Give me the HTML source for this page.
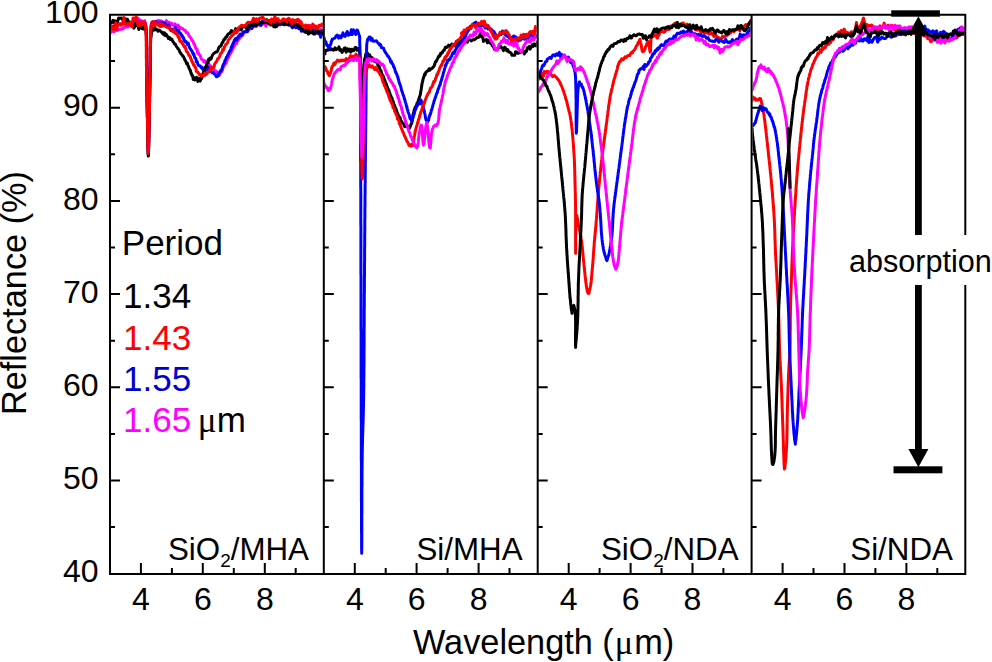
<!DOCTYPE html><html><head><meta charset="utf-8"><style>html,body{margin:0;padding:0;background:#fff;}svg{display:block;}text{font-family:"Liberation Sans",sans-serif;}</style></head><body><svg width="992" height="662" viewBox="0 0 992 662"><rect width="992" height="662" fill="#fff"/><defs><clipPath id="cp1"><rect x="111" y="15.5" width="211.8" height="557.5"/></clipPath><clipPath id="cp2"><rect x="324.8" y="15.5" width="211.9" height="557.5"/></clipPath><clipPath id="cp3"><rect x="538.7" y="15.5" width="211.9" height="557.5"/></clipPath><clipPath id="cp4"><rect x="752.6" y="15.5" width="211.7" height="557.5"/></clipPath></defs><g clip-path="url(#cp1)">
<path d="M110.0,32.0 111.0,32.4 112.0,31.5 112.9,29.0 113.9,31.7 115.0,30.9 116.0,29.3 117.3,30.5 118.6,29.9 119.9,29.5 121.3,28.8 122.7,29.1 124.0,27.1 125.4,27.3 126.7,26.3 128.1,27.0 129.4,25.7 130.7,24.7 132.0,23.6 133.0,23.7 134.0,23.6 135.0,22.8 136.0,24.2 137.0,23.6 138.0,18.3 139.1,19.1 140.3,21.2 141.5,20.7 142.6,21.6 143.5,21.6 144.3,24.0 144.7,20.7 144.9,21.8 145.1,23.5 145.3,23.1 145.4,23.6 145.6,23.9 145.8,25.1 146.0,26.9 146.2,28.3 146.2,29.6 146.3,30.9 146.3,32.3 146.4,33.6 146.4,35.0 146.5,36.4 146.5,37.8 146.5,39.1 146.5,40.5 146.5,41.9 146.5,43.3 146.5,44.8 146.5,46.3 146.5,47.8 146.5,49.4 146.5,50.9 146.5,52.4 146.5,53.9 146.5,55.4 146.5,57.0 146.5,58.5 146.5,60.0 146.5,61.5 146.5,62.9 146.5,64.4 146.6,65.8 146.6,67.2 146.6,68.6 146.6,70.0 146.6,71.4 146.7,72.8 146.7,74.2 146.7,75.5 146.7,77.0 146.8,78.3 146.8,79.8 146.8,81.2 146.8,82.6 146.9,84.1 146.9,85.5 146.9,86.9 146.9,88.4 147.0,89.8 147.0,91.2 147.0,92.7 147.0,94.1 147.1,95.5 147.1,97.0 147.1,98.4 147.1,99.8 147.1,101.3 147.2,102.7 147.2,104.1 147.2,105.4 147.2,106.8 147.3,108.1 147.3,109.5 147.3,110.9 147.3,112.2 147.4,113.8 147.4,115.3 147.4,116.9 147.5,118.5 147.5,120.0 147.5,121.3 147.6,122.6 147.6,123.9 147.6,125.1 147.6,126.5 147.7,127.9 147.7,129.3 147.7,130.7 147.7,132.1 147.8,133.6 147.8,134.9 147.8,136.3 147.8,137.7 147.9,139.1 147.9,140.4 147.9,141.9 148.0,143.4 148.0,144.8 148.0,146.2 148.1,147.7 148.1,149.2 148.2,150.4 148.3,149.9 148.4,150.5 148.5,149.0 148.5,147.7 148.6,146.3 148.6,144.9 148.6,143.4 148.7,141.9 148.7,140.4 148.7,139.0 148.8,137.7 148.8,136.3 148.8,134.9 148.8,133.5 148.9,132.1 148.9,130.8 148.9,129.3 148.9,127.9 149.0,126.5 149.0,125.2 149.0,123.9 149.0,122.6 149.1,121.3 149.1,120.0 149.1,118.5 149.2,116.9 149.2,115.3 149.2,113.8 149.3,112.2 149.3,110.9 149.3,109.4 149.3,108.1 149.4,106.7 149.4,105.3 149.4,104.0 149.4,102.5 149.4,101.1 149.5,99.7 149.5,98.2 149.5,96.8 149.5,95.4 149.6,93.9 149.6,92.4 149.6,91.0 149.6,89.6 149.7,88.1 149.7,86.7 149.7,85.2 149.7,83.8 149.8,82.4 149.8,81.0 149.8,79.5 149.8,78.2 149.9,76.8 149.9,75.4 149.9,74.1 149.9,72.7 150.0,71.5 150.0,70.0 150.0,68.5 150.1,67.1 150.1,65.6 150.1,64.1 150.1,62.7 150.2,61.2 150.2,59.7 150.2,58.2 150.2,56.6 150.2,55.1 150.3,53.6 150.3,52.2 150.3,50.7 150.3,49.2 150.4,47.6 150.4,46.3 150.4,45.0 150.5,43.5 150.5,42.1 150.5,40.7 150.6,39.2 150.6,37.7 150.7,36.3 150.7,34.6 150.8,33.1 150.9,31.6 151.0,29.9 151.1,28.4 151.1,27.0 151.2,25.7 151.3,24.3 151.5,23.5 152.0,22.8 152.5,22.3 153.0,22.4 153.7,21.8 154.4,23.4 155.2,21.6 156.0,21.9 156.8,21.0 157.7,21.3 158.7,20.3 159.7,23.1 160.8,20.8 161.9,21.5 163.0,23.3 164.1,23.6 165.2,22.7 166.4,20.6 167.4,24.3 168.4,24.3 169.3,22.2 170.1,25.4 171.0,23.6 171.8,23.3 172.7,25.1 173.5,25.0 174.3,25.8 175.1,23.8 175.9,28.3 176.6,25.6 178.1,25.0 179.2,28.1 180.3,27.4 181.3,28.6 182.3,28.4 183.3,29.3 184.2,30.2 185.2,30.2 186.1,32.4 187.1,32.5 187.9,33.3 188.8,35.2 189.6,36.6 190.4,37.4 191.2,38.4 191.9,40.6 192.7,40.7 193.4,42.5 194.1,44.5 194.5,44.5 194.9,46.0 195.2,46.7 195.6,48.0 196.0,47.8 196.4,48.7 196.8,50.1 197.1,49.2 197.5,53.2 197.9,51.7 198.3,52.4 198.7,54.1 199.4,54.9 200.1,55.2 200.9,58.0 201.6,59.4 202.4,59.6 203.2,60.6 203.8,61.7 204.4,60.5 205.0,62.3 205.6,62.2 206.2,61.5 206.8,61.2 207.6,63.0 208.5,63.1 209.4,65.5 210.3,65.5 211.2,66.9 212.0,67.1 212.7,68.0 213.4,68.0 214.0,69.9 214.7,71.6 215.3,70.6 216.0,71.0 216.6,71.8 217.2,72.0 217.8,72.2 218.3,73.5 218.9,73.1 219.5,75.3 220.3,73.0 221.0,72.3 221.8,71.4 222.1,69.9 222.5,70.1 222.9,68.2 223.2,67.3 223.6,66.8 224.0,66.2 224.5,64.5 225.1,64.3 225.6,62.3 226.2,63.0 226.7,61.1 227.3,59.6 227.8,58.3 228.4,57.5 228.9,56.5 229.4,55.0 229.9,54.1 230.4,53.5 231.1,52.0 231.6,51.5 232.2,50.4 232.8,48.6 233.4,47.7 234.0,45.5 234.6,45.7 235.3,44.2 236.0,43.6 236.7,43.4 237.4,39.6 238.2,40.4 239.1,38.2 240.1,38.2 240.6,36.1 241.1,36.1 241.6,36.0 242.1,35.8 243.1,34.2 244.2,32.3 245.1,31.6 246.1,32.0 247.0,30.4 248.0,28.0 249.1,29.7 250.2,28.5 250.9,28.6 251.6,26.9 252.4,27.8 253.2,25.3 254.0,26.8 254.8,25.2 255.6,26.3 256.4,26.4 257.3,23.9 258.2,24.4 259.1,24.3 260.0,25.6 261.1,24.8 262.3,21.8 263.5,24.0 264.7,24.3 266.0,26.3 267.3,20.3 268.6,22.0 269.9,24.9 271.2,20.5 272.5,20.6 273.7,23.4 275.0,24.2 276.3,21.4 277.5,23.3 278.8,22.6 280.1,25.0 281.4,22.4 282.7,24.1 284.0,21.0 285.2,22.2 286.5,22.5 287.7,24.5 288.8,23.7 290.0,21.9 290.9,24.1 291.8,24.4 292.7,23.4 293.6,23.5 294.5,23.8 295.3,22.1 296.1,24.8 297.0,25.1 297.7,24.1 298.5,26.3 300.0,24.4 301.1,25.9 302.1,26.5 303.0,29.7 303.9,26.4 304.9,29.3 306.0,30.3 307.5,29.8 308.3,31.2 309.2,27.7 310.1,25.5 310.9,30.6 311.8,27.3 312.7,28.8 313.5,27.3 314.4,31.0 316.0,30.7 317.2,28.3 318.4,30.9 319.6,29.8 320.7,29.5 321.8,30.0 323.0,29.7" fill="none" stroke="#ff00ff" stroke-width="3.0" stroke-linejoin="round" stroke-linecap="round"/>
<path d="M110.0,27.7 110.8,27.3 111.7,26.9 112.5,27.1 113.3,26.3 114.2,26.3 115.0,26.1 115.8,26.2 116.6,25.3 117.4,25.8 118.2,25.0 119.0,24.7 120.0,24.3 120.9,24.5 121.7,24.2 122.8,23.7 123.8,23.5 124.8,23.6 125.9,23.4 127.0,23.9 128.1,23.9 129.1,23.6 130.2,23.3 131.1,22.9 132.0,23.0 133.1,23.2 134.1,23.6 135.1,23.0 136.1,22.5 137.0,22.6 138.0,22.3 139.1,22.1 140.3,22.2 141.5,22.3 142.6,22.9 143.6,22.3 144.3,22.9 144.7,23.1 144.9,23.1 145.1,24.3 145.3,24.1 145.4,24.2 145.6,25.1 145.8,26.4 146.0,27.8 146.2,29.2 146.2,30.5 146.3,31.9 146.3,33.1 146.4,34.5 146.4,35.7 146.5,37.1 146.5,38.5 146.5,39.8 146.5,41.2 146.5,42.5 146.5,43.8 146.5,45.3 146.5,46.8 146.5,48.3 146.5,49.8 146.5,51.3 146.5,52.7 146.5,54.2 146.5,55.7 146.5,57.2 146.5,58.7 146.5,60.2 146.5,61.7 146.5,63.1 146.5,64.5 146.6,65.9 146.6,67.2 146.6,68.6 146.6,69.9 146.6,71.4 146.7,72.8 146.7,74.1 146.7,75.6 146.7,76.9 146.8,78.3 146.8,79.7 146.8,81.2 146.8,82.6 146.9,84.0 146.9,85.5 146.9,86.9 146.9,88.3 147.0,89.7 147.0,91.3 147.0,92.6 147.0,94.1 147.1,95.5 147.1,97.0 147.1,98.4 147.1,99.8 147.1,101.2 147.2,102.7 147.2,104.1 147.2,105.4 147.2,106.8 147.3,108.2 147.3,109.5 147.3,110.9 147.3,112.3 147.4,113.8 147.4,115.3 147.4,116.9 147.5,118.4 147.5,120.0 147.5,121.3 147.6,122.6 147.6,123.9 147.6,125.2 147.6,126.5 147.7,127.9 147.7,129.3 147.7,130.7 147.7,132.2 147.8,133.5 147.8,135.0 147.8,136.3 147.8,137.7 147.9,139.1 147.9,140.4 147.9,141.9 148.0,143.4 148.0,144.8 148.0,146.3 148.1,147.7 148.1,149.0 148.2,150.5 148.3,154.2 148.4,150.5 148.5,149.1 148.5,147.7 148.6,146.3 148.6,144.8 148.6,143.4 148.7,142.0 148.7,140.5 148.7,139.1 148.8,137.7 148.8,136.3 148.8,135.0 148.8,133.6 148.9,132.1 148.9,130.7 148.9,129.4 148.9,127.9 149.0,126.5 149.0,125.2 149.0,123.8 149.0,122.5 149.1,121.3 149.1,120.0 149.1,118.5 149.2,116.9 149.2,115.3 149.2,113.8 149.3,112.2 149.3,110.8 149.3,109.5 149.3,108.1 149.4,106.6 149.4,105.3 149.4,104.0 149.4,102.4 149.4,101.1 149.5,99.6 149.5,98.2 149.5,96.7 149.5,95.3 149.6,93.9 149.6,92.5 149.6,91.0 149.6,89.5 149.7,88.1 149.7,86.7 149.7,85.3 149.7,83.8 149.8,82.4 149.8,81.0 149.8,79.6 149.8,78.1 149.9,76.7 149.9,75.4 149.9,74.1 149.9,72.7 150.0,71.4 150.0,70.0 150.0,68.5 150.1,67.1 150.1,65.6 150.1,64.2 150.1,62.7 150.2,61.1 150.2,59.6 150.2,58.1 150.2,56.5 150.2,55.0 150.3,53.5 150.3,52.0 150.3,50.5 150.3,49.1 150.3,47.6 150.4,46.1 150.4,44.7 150.4,43.4 150.5,41.9 150.5,40.5 150.5,39.1 150.6,37.5 150.6,36.0 150.7,34.5 150.8,33.1 150.9,31.5 151.0,30.0 151.1,28.7 151.1,27.4 151.2,26.5 151.3,25.2 151.6,23.8 152.0,22.5 152.5,21.9 153.1,22.7 153.7,24.9 154.4,23.5 155.2,22.3 156.0,21.6 157.3,22.7 158.8,23.2 159.6,23.2 160.4,22.3 161.2,23.8 162.0,26.0 162.8,22.1 163.5,24.9 165.0,23.1 166.2,26.4 167.4,25.9 168.6,25.0 169.7,28.0 170.9,30.5 172.0,29.1 173.1,30.9 174.3,29.7 175.4,27.4 176.6,31.2 177.7,30.7 178.7,30.4 179.3,33.1 179.9,33.2 180.5,33.3 181.0,35.0 181.6,34.7 182.1,36.5 182.6,36.3 183.1,38.1 183.6,37.9 184.1,40.4 184.6,40.3 185.1,41.9 185.9,41.4 186.7,42.7 187.4,44.6 188.2,43.1 188.9,45.4 189.6,47.9 190.0,48.2 190.4,49.2 190.8,49.2 191.1,50.4 191.5,50.5 191.9,50.9 192.2,51.5 192.6,52.9 193.0,53.7 193.3,54.4 193.7,53.5 194.1,55.2 194.5,56.7 194.8,57.9 195.2,58.1 195.6,58.7 196.0,58.6 196.3,61.8 197.1,61.3 197.9,64.4 198.7,65.6 199.4,65.6 200.1,65.9 200.9,67.4 201.6,67.0 202.4,68.9 203.2,69.0 203.9,69.9 204.7,70.1 205.4,70.7 206.2,67.8 207.0,69.7 207.7,67.0 208.5,67.4 209.3,68.3 210.0,68.7 210.8,71.1 211.6,71.8 212.3,72.8 213.1,72.5 213.9,73.7 214.6,74.1 215.4,74.4 216.1,76.5 216.8,76.7 217.4,74.8 218.1,75.9 218.7,73.4 219.2,73.6 219.8,72.3 220.4,71.4 220.8,70.3 221.2,70.7 221.6,69.6 222.0,69.0 222.3,67.6 222.7,66.0 223.1,65.4 223.4,64.1 223.8,63.9 224.2,63.3 224.6,61.9 225.0,60.5 225.4,59.7 225.9,59.1 226.3,57.2 226.8,57.2 227.2,56.3 227.7,55.0 228.1,54.1 228.6,53.5 229.1,52.1 229.5,51.2 230.0,51.2 230.4,50.0 230.8,50.0 231.1,47.8 231.5,46.6 231.8,47.3 232.2,46.5 232.5,44.8 232.8,43.7 233.2,43.7 233.6,42.0 234.0,42.1 234.4,40.1 234.9,40.7 235.5,38.6 236.1,39.2 236.7,40.0 237.3,37.8 238.0,38.0 238.7,36.1 239.4,35.2 240.2,34.0 240.9,35.7 241.6,34.1 242.3,35.0 243.0,31.9 244.2,31.8 245.3,31.2 246.5,31.8 247.7,31.5 248.9,28.1 250.2,26.8 250.9,25.8 251.7,28.6 252.5,26.6 253.2,25.6 254.0,25.8 254.8,22.5 255.7,23.0 256.5,25.6 257.3,24.7 258.2,24.0 259.1,22.2 260.0,24.0 261.1,25.4 262.2,21.0 263.4,22.5 264.5,21.7 265.7,22.7 266.9,22.1 268.2,21.8 269.4,20.5 270.7,21.9 271.9,20.9 273.2,21.7 274.4,21.9 275.8,23.2 277.2,21.4 278.6,22.1 280.0,24.3 281.5,22.8 282.9,23.0 284.4,24.9 285.8,24.5 287.2,24.6 288.6,25.2 290.0,23.6 291.3,26.2 292.5,27.7 293.6,27.1 294.8,24.9 295.9,27.6 297.0,26.7 298.1,28.0 299.2,28.8 300.3,27.6 301.4,31.2 302.4,29.8 303.5,31.2 304.6,31.3 305.6,32.6 306.6,32.6 307.6,28.3 308.6,30.8 309.5,27.2 310.5,30.0 311.5,31.9 312.4,32.3 313.4,32.9 314.3,30.2 315.1,31.4 316.0,31.2 317.3,33.0 318.5,33.8 319.6,32.0 320.7,37.3 321.9,33.4 323.0,33.5" fill="none" stroke="#0000ff" stroke-width="3.0" stroke-linejoin="round" stroke-linecap="round"/>
<path d="M110.0,22.8 111.0,22.7 112.0,22.2 112.9,20.3 113.9,22.9 114.9,20.8 116.0,22.6 117.3,22.2 118.7,18.1 120.1,18.3 121.5,18.0 122.8,19.8 124.0,19.6 124.8,20.0 125.5,18.7 126.1,20.5 126.8,21.9 127.4,19.2 128.0,20.8 128.7,21.7 129.3,22.0 129.9,22.5 130.6,24.9 131.3,25.2 132.0,25.4 132.9,24.0 133.9,28.1 134.9,26.1 136.0,25.1 137.0,25.7 138.0,25.8 138.9,29.5 139.8,27.3 140.7,27.3 141.5,24.7 142.3,28.7 143.0,26.6 143.4,26.6 143.9,29.1 144.3,27.1 144.6,29.3 145.0,29.6 145.3,28.1 145.6,30.1 145.9,30.6 146.3,32.3 146.4,33.9 146.5,35.1 146.6,36.9 146.7,38.1 146.7,39.6 146.7,41.1 146.7,42.6 146.7,44.0 146.7,45.5 146.7,46.9 146.7,48.3 146.7,49.7 146.6,51.1 146.6,52.5 146.6,53.8 146.6,55.2 146.6,56.7 146.5,58.0 146.5,59.5 146.5,60.8 146.5,62.2 146.5,63.8 146.5,65.3 146.5,66.9 146.5,68.4 146.5,70.0 146.5,71.3 146.6,72.7 146.6,74.1 146.6,75.4 146.7,76.7 146.7,78.2 146.7,79.5 146.7,80.9 146.8,82.4 146.8,83.8 146.8,85.2 146.9,86.6 146.9,88.0 146.9,89.5 146.9,90.9 147.0,92.2 147.0,93.7 147.0,95.2 147.1,96.6 147.1,98.0 147.1,99.5 147.1,100.9 147.2,102.3 147.2,103.7 147.2,105.1 147.2,106.5 147.3,107.9 147.3,109.3 147.3,110.6 147.3,112.1 147.4,113.6 147.4,115.2 147.4,116.8 147.5,118.4 147.5,120.0 147.5,121.4 147.6,123.0 147.6,124.4 147.6,125.8 147.6,127.4 147.7,128.7 147.7,130.1 147.7,131.4 147.7,132.8 147.7,134.1 147.8,135.5 147.8,137.1 147.8,138.7 147.8,140.3 147.9,141.9 147.9,143.5 147.9,144.8 147.9,146.2 148.0,147.6 148.0,149.0 148.0,150.4 148.1,151.6 148.1,152.8 148.1,154.0 148.2,155.2 148.2,156.0 148.3,152.9 148.4,156.1 148.4,155.1 148.5,154.0 148.5,152.8 148.6,151.6 148.6,150.4 148.6,149.0 148.7,147.5 148.7,146.2 148.7,144.9 148.7,143.4 148.8,141.9 148.8,140.3 148.8,138.7 148.9,137.1 148.9,135.4 148.9,134.1 148.9,132.7 149.0,131.4 149.0,130.1 149.0,128.7 149.1,127.4 149.1,125.8 149.1,124.5 149.1,122.9 149.2,121.5 149.2,120.0 149.2,118.7 149.3,117.3 149.3,116.0 149.3,114.7 149.3,113.4 149.4,112.0 149.4,110.6 149.4,109.2 149.4,107.8 149.5,106.4 149.5,105.0 149.5,103.6 149.6,102.2 149.6,100.6 149.6,99.2 149.6,97.8 149.7,96.3 149.7,94.8 149.7,93.5 149.7,91.9 149.8,90.6 149.8,89.2 149.8,87.7 149.9,86.2 149.9,84.9 149.9,83.5 149.9,82.1 150.0,80.7 150.0,79.3 150.0,77.9 150.1,76.4 150.1,74.7 150.1,73.1 150.2,71.6 150.2,70.0 150.2,68.7 150.2,67.3 150.3,66.1 150.3,64.7 150.3,63.5 150.3,62.1 150.3,60.8 150.3,59.4 150.3,58.1 150.3,56.7 150.4,55.4 150.4,54.1 150.4,52.8 150.4,51.5 150.4,50.2 150.4,48.7 150.4,47.2 150.5,45.7 150.5,44.1 150.6,43.0 150.6,41.6 150.7,40.3 150.7,38.8 150.9,37.6 151.0,36.3 151.2,35.3 151.4,33.6 151.6,33.1 151.9,31.2 152.2,30.5 152.5,30.6 153.0,29.3 153.4,28.2 153.9,29.1 154.3,30.0 154.9,27.2 155.4,29.3 156.0,29.7 156.9,29.5 158.0,31.3 159.0,30.1 160.2,30.8 161.3,31.8 162.4,33.2 163.1,32.6 163.8,34.8 164.6,32.9 165.3,35.6 166.0,34.0 166.8,35.3 167.5,36.4 168.3,38.5 168.9,38.0 169.6,37.4 170.3,39.5 170.9,38.8 171.9,39.4 172.8,41.4 173.6,42.2 174.4,43.9 175.2,43.9 176.0,45.7 176.8,47.0 177.5,48.0 178.3,49.0 179.0,49.8 179.8,52.1 180.5,52.8 181.3,54.2 182.0,54.8 182.8,56.2 183.6,56.7 184.4,58.7 185.1,60.4 185.5,60.7 185.9,61.8 186.3,62.3 186.6,63.6 187.0,63.5 187.4,63.4 187.8,65.3 188.1,65.8 188.5,66.1 188.9,67.8 189.2,68.4 189.6,69.2 190.0,69.7 190.3,70.8 190.7,71.8 191.0,73.5 191.4,73.3 191.7,74.6 192.1,75.7 192.5,75.5 192.8,76.2 193.2,79.4 194.1,77.6 194.7,80.0 195.3,78.9 195.9,79.1 196.6,77.4 197.2,78.8 197.8,81.5 198.4,78.3 199.1,80.6 199.7,79.9 200.3,81.0 200.9,78.2 201.4,78.9 202.1,77.2 202.4,75.7 202.7,74.3 203.0,74.5 203.3,72.5 203.5,71.8 203.8,71.2 204.1,70.4 204.3,68.6 204.7,68.1 205.0,67.1 205.7,66.6 206.4,66.2 207.1,62.2 207.9,62.8 208.7,59.1 209.5,59.9 210.2,58.0 211.0,59.1 211.8,56.7 212.5,55.0 213.3,54.2 214.1,53.1 214.8,52.9 215.6,51.9 216.4,51.9 217.1,51.9 217.9,50.4 218.6,48.1 219.4,46.8 220.2,46.2 220.9,46.1 221.7,44.0 222.4,42.5 223.1,41.9 223.7,39.9 224.3,39.1 224.9,39.3 225.5,37.8 226.1,36.8 226.8,36.5 227.5,35.0 228.2,34.1 228.9,33.5 229.6,33.6 230.4,32.5 231.3,30.6 232.3,30.9 233.4,31.6 234.6,32.8 235.7,28.6 236.9,30.1 238.0,29.0 239.0,29.9 240.0,29.0 241.0,29.8 242.0,28.3 243.0,26.6 244.0,26.2 245.0,27.1 245.9,26.8 246.9,29.1 247.9,27.9 248.9,23.8 250.0,25.6 251.5,22.9 252.4,22.2 253.2,25.2 254.0,24.7 254.9,22.3 255.8,25.8 256.6,22.0 257.5,21.5 258.4,23.9 259.2,23.2 260.0,22.5 261.4,22.5 262.7,22.9 264.0,22.2 265.3,22.2 266.6,19.6 268.0,20.6 268.8,23.7 269.6,21.9 270.5,23.9 271.3,25.0 272.1,23.0 273.0,24.1 273.8,26.8 274.7,25.1 275.5,26.9 276.4,26.7 277.2,25.7 278.0,24.3 279.5,23.1 280.9,22.5 282.3,24.3 283.7,23.9 285.1,22.7 286.5,24.0 288.1,21.6 288.9,24.3 289.7,22.6 290.5,22.4 291.3,22.5 292.1,22.4 292.9,26.3 294.5,20.6 296.0,23.5 296.8,25.1 297.5,24.9 298.2,24.5 298.9,26.9 299.6,25.3 300.2,25.8 300.9,28.0 301.6,27.0 302.3,26.8 303.0,30.4 303.8,30.8 304.6,31.4 305.5,30.2 306.5,31.3 307.5,29.9 308.5,34.1 309.6,32.8 310.7,32.8 311.8,28.5 312.8,33.1 313.9,34.2 314.9,33.8 315.8,33.0 316.7,31.7 317.9,31.1 319.0,32.5 320.0,32.1 321.0,31.7 322.0,30.7 323.0,33.7" fill="none" stroke="#000000" stroke-width="3.0" stroke-linejoin="round" stroke-linecap="round"/>
<path d="M110.0,25.0 110.8,27.2 111.7,25.8 112.5,29.0 113.3,29.6 114.2,28.9 115.0,27.6 115.8,22.8 116.6,29.8 117.4,26.3 118.2,24.7 119.0,24.8 120.0,23.7 120.9,25.3 121.7,24.9 122.8,23.2 123.8,17.5 124.8,23.7 125.9,24.8 127.0,24.8 128.1,23.0 129.1,24.4 130.2,25.8 131.1,21.9 132.0,26.7 133.1,17.9 134.1,19.6 135.1,20.4 136.1,16.2 137.0,19.9 138.0,25.8 139.1,25.6 140.3,22.4 141.5,24.9 142.6,22.5 143.6,21.5 144.3,22.8 144.7,22.8 144.9,23.7 145.1,23.3 145.2,24.6 145.3,25.0 145.4,26.2 145.5,27.2 145.7,28.9 145.8,30.4 145.9,31.8 145.9,32.9 146.0,34.4 146.0,35.6 146.1,36.9 146.1,38.5 146.1,40.0 146.2,41.6 146.2,43.2 146.2,44.7 146.2,46.2 146.3,47.6 146.3,49.0 146.3,50.4 146.3,51.9 146.3,53.3 146.3,54.7 146.3,56.2 146.3,57.6 146.4,59.1 146.4,60.5 146.4,61.9 146.4,63.3 146.4,64.6 146.4,65.9 146.5,67.3 146.5,68.6 146.5,70.0 146.5,71.4 146.6,72.7 146.6,74.1 146.6,75.5 146.6,76.9 146.7,78.3 146.7,79.7 146.7,81.1 146.7,82.6 146.8,83.9 146.8,85.3 146.8,86.8 146.8,88.2 146.9,89.7 146.9,91.1 146.9,92.5 146.9,94.0 147.0,95.5 147.0,96.8 147.0,98.3 147.0,99.7 147.0,101.2 147.1,102.5 147.1,104.0 147.1,105.3 147.1,106.7 147.2,108.1 147.2,109.5 147.2,110.8 147.2,112.1 147.3,113.8 147.3,115.3 147.3,116.9 147.4,118.4 147.4,120.0 147.4,121.4 147.5,122.7 147.5,124.1 147.5,125.5 147.5,126.8 147.6,128.3 147.6,129.8 147.6,131.4 147.7,132.8 147.7,134.4 147.7,135.8 147.8,137.3 147.8,138.7 147.8,140.2 147.8,141.6 147.9,143.2 147.9,144.8 148.0,146.3 148.0,148.0 148.0,149.3 148.1,150.9 148.1,152.1 148.2,153.0 148.3,153.4 148.4,153.1 148.5,152.2 148.5,150.9 148.6,149.5 148.6,148.0 148.6,146.3 148.7,144.8 148.7,143.2 148.8,141.7 148.8,140.2 148.8,138.7 148.8,137.2 148.9,135.8 148.9,134.4 148.9,132.7 149.0,131.3 149.0,129.9 149.0,128.4 149.1,126.9 149.1,125.5 149.1,124.1 149.1,122.7 149.2,121.3 149.2,120.0 149.2,118.4 149.3,116.9 149.3,115.2 149.3,113.8 149.4,112.2 149.4,110.8 149.4,109.4 149.4,108.1 149.5,106.6 149.5,105.2 149.5,103.9 149.5,102.4 149.6,101.0 149.6,99.6 149.6,98.2 149.6,96.7 149.7,95.3 149.7,93.9 149.7,92.5 149.7,91.0 149.7,89.6 149.8,88.1 149.8,86.7 149.8,85.3 149.8,83.8 149.9,82.4 149.9,81.0 149.9,79.6 149.9,78.2 150.0,76.8 150.0,75.4 150.0,74.1 150.0,72.7 150.1,71.4 150.1,70.0 150.1,68.5 150.1,66.9 150.2,65.4 150.2,63.9 150.2,62.4 150.2,61.0 150.2,59.6 150.2,58.3 150.2,57.0 150.3,55.6 150.3,54.3 150.3,52.7 150.3,51.1 150.3,49.5 150.3,47.9 150.3,46.3 150.4,44.8 150.4,43.4 150.4,41.9 150.4,40.4 150.5,39.0 150.5,37.4 150.6,35.8 150.6,34.2 150.7,32.6 150.8,31.1 151.0,29.5 151.1,27.9 151.3,26.5 151.4,25.2 151.6,24.2 151.8,23.7 152.1,22.1 152.5,21.8 152.8,25.1 153.2,24.0 153.6,21.8 154.1,23.6 154.6,22.3 155.1,25.4 156.2,22.8 157.6,24.1 159.1,26.2 159.9,23.5 160.7,26.5 162.2,24.2 163.6,26.0 164.7,25.8 165.8,26.4 166.9,27.2 167.9,27.4 169.0,26.8 170.0,29.5 171.1,29.9 172.1,31.1 173.2,31.8 174.2,29.7 175.1,33.0 176.0,33.7 176.9,33.5 177.7,35.8 178.4,37.4 178.7,37.1 179.1,37.3 179.4,38.6 179.8,41.2 180.5,41.0 181.3,41.3 182.0,43.2 182.8,43.8 183.6,45.4 184.3,46.9 185.1,46.5 185.9,49.6 186.6,51.6 187.4,52.0 188.1,53.3 188.9,55.5 189.6,55.6 190.0,56.3 190.4,57.0 190.7,58.5 191.1,59.5 191.5,60.0 191.8,61.2 192.2,62.1 192.6,62.7 193.0,62.7 193.3,63.8 193.7,65.4 194.1,64.8 194.5,66.0 194.8,66.6 195.2,67.5 195.6,67.7 195.9,68.3 196.3,71.3 197.0,71.8 197.8,71.9 198.7,73.5 199.4,74.8 200.1,74.5 200.9,76.0 201.7,75.1 202.5,75.6 203.2,76.1 204.0,75.5 204.7,73.1 205.5,74.9 206.2,74.3 207.0,73.7 207.7,71.7 208.5,72.2 209.3,71.4 210.1,69.0 210.8,67.9 211.6,69.3 212.3,67.4 213.1,67.7 213.9,67.3 214.6,64.3 215.3,62.9 216.1,62.1 216.8,61.2 217.6,58.8 218.3,58.9 219.1,57.4 219.8,55.8 220.5,53.7 221.3,53.3 222.1,51.8 222.8,49.2 223.6,49.8 224.3,47.0 225.1,46.0 225.9,44.2 226.6,43.7 227.4,43.1 228.1,40.7 228.9,39.1 229.6,38.9 230.4,37.3 231.2,36.6 231.9,35.9 232.6,34.7 233.4,34.6 234.1,31.9 234.9,32.1 235.4,30.8 236.0,32.2 236.5,33.0 237.0,30.4 237.6,31.4 238.2,28.8 239.1,27.1 240.1,26.7 241.1,25.6 242.1,25.5 243.2,25.5 244.2,26.3 245.2,25.3 246.1,24.5 247.1,23.1 248.1,22.2 249.1,22.6 250.2,22.3 250.9,22.1 251.7,21.9 252.5,20.9 253.3,18.4 254.1,19.0 254.9,19.0 255.8,21.7 256.6,18.8 257.4,19.9 258.3,20.8 259.1,19.1 259.9,17.9 261.3,18.0 262.7,17.1 264.1,19.3 265.5,20.8 267.0,20.3 268.4,20.9 270.0,21.0 270.8,23.1 271.6,18.9 272.4,20.2 273.2,21.1 274.0,22.1 274.8,16.1 275.6,19.3 276.4,19.8 278.0,18.7 279.4,21.7 280.7,21.0 282.0,20.4 283.3,18.8 284.6,19.4 286.0,19.8 286.8,22.2 287.6,19.5 288.5,18.3 289.4,19.0 290.2,20.0 291.1,23.0 292.0,24.0 292.9,19.6 293.7,21.7 294.6,22.5 295.4,22.2 296.2,20.1 297.7,19.4 298.3,20.8 299.0,20.0 299.7,22.6 300.3,23.6 301.0,21.7 301.7,24.0 302.4,24.8 303.1,26.3 303.8,26.9 304.6,26.7 305.5,25.0 306.5,25.6 307.5,28.1 308.6,25.4 309.6,26.3 310.7,29.1 311.8,26.7 312.8,24.1 313.9,25.9 314.9,27.4 315.8,26.0 316.7,28.2 317.9,28.3 319.0,25.2 320.0,25.3 321.0,25.8 322.0,24.0 323.0,26.3" fill="none" stroke="#ff0000" stroke-width="3.0" stroke-linejoin="round" stroke-linecap="round"/>
</g>
<g clip-path="url(#cp2)">
<path d="M324.0,51.8 324.3,52.9 324.5,51.1 324.7,50.6 325.0,53.9 325.3,50.4 325.6,50.7 326.6,50.1 327.9,50.2 329.3,48.9 330.1,49.8 330.9,48.7 331.7,48.9 332.5,49.8 333.3,50.2 334.1,49.7 335.0,47.8 336.0,49.6 337.0,48.9 338.0,49.0 339.0,46.8 340.0,50.5 341.0,49.5 342.1,52.4 343.1,51.0 344.2,48.4 345.2,47.9 346.2,52.1 347.3,48.7 348.4,50.9 349.5,49.2 350.7,52.2 351.8,49.2 353.0,50.8 354.0,50.3 355.1,47.5 356.0,47.6 357.0,50.3 358.3,48.4 358.9,48.4 359.3,50.4 359.5,51.4 359.6,52.1 359.7,53.6 359.8,55.0 359.9,56.5 360.0,57.5 360.1,59.0 360.2,60.2 360.3,61.5 360.3,62.9 360.4,64.2 360.4,65.5 360.5,66.9 360.5,68.5 360.6,70.1 360.6,71.7 360.6,73.3 360.7,74.8 360.7,76.2 360.7,77.7 360.7,79.1 360.7,80.5 360.7,81.9 360.8,83.3 360.8,84.8 360.8,86.2 360.8,87.6 360.8,89.0 360.8,90.5 360.9,91.9 360.9,93.3 360.9,94.7 360.9,96.0 361.0,97.2 361.0,98.7 361.0,100.0 361.0,101.6 361.1,103.1 361.1,104.7 361.1,106.2 361.2,107.8 361.2,109.4 361.2,111.0 361.2,112.4 361.3,113.9 361.3,115.6 361.3,117.1 361.3,118.6 361.4,120.2 361.4,121.8 361.4,123.3 361.4,124.8 361.4,126.4 361.5,128.0 361.5,129.5 361.5,131.1 361.5,132.7 361.6,134.3 361.6,135.9 361.6,137.5 361.7,139.0 361.7,140.6 361.7,141.9 361.7,143.4 361.8,144.7 361.8,146.1 361.8,147.3 361.9,148.8 362.0,150.5 362.1,148.6 362.2,147.4 362.2,146.0 362.2,144.7 362.2,143.3 362.3,141.9 362.3,140.5 362.3,139.2 362.3,137.8 362.4,136.4 362.4,135.0 362.4,133.6 362.4,132.3 362.5,131.0 362.5,129.4 362.5,127.8 362.5,126.2 362.5,124.6 362.6,123.1 362.6,121.5 362.6,120.0 362.6,118.4 362.7,116.9 362.7,115.4 362.7,113.8 362.7,112.3 362.8,110.7 362.8,109.2 362.8,107.7 362.9,106.1 362.9,104.7 362.9,103.1 363.0,101.6 363.0,100.0 363.0,98.5 363.1,97.1 363.1,95.6 363.1,94.1 363.1,92.6 363.2,91.1 363.2,89.5 363.2,88.0 363.2,86.4 363.2,84.9 363.2,83.4 363.2,81.9 363.3,80.4 363.3,78.8 363.3,77.3 363.3,75.9 363.4,74.4 363.4,73.1 363.5,71.7 363.5,70.3 363.6,69.0 363.7,67.2 363.8,65.8 363.9,64.4 364.1,63.0 364.3,61.5 364.5,59.9 364.8,58.7 365.1,57.5 365.4,57.0 365.7,54.3 366.2,56.9 366.7,54.4 367.5,53.2 368.5,56.2 369.6,54.8 370.7,57.4 371.8,57.6 372.8,59.3 373.6,60.2 374.4,61.3 375.1,60.5 375.9,61.4 376.6,62.6 377.3,62.7 377.9,65.0 378.5,65.8 379.1,66.3 379.7,68.9 380.3,70.4 380.9,70.4 381.5,72.8 382.1,74.6 382.5,75.4 382.9,75.5 383.3,76.3 383.9,78.4 384.5,79.7 384.9,80.9 385.3,81.8 385.7,83.1 386.1,83.6 386.5,84.8 387.0,87.3 387.4,86.9 387.8,88.3 388.2,89.1 388.6,90.1 389.0,90.5 389.4,92.3 389.8,93.0 390.2,94.4 390.6,96.1 391.0,96.2 391.4,97.5 391.8,97.6 392.2,99.2 392.6,100.9 393.0,101.2 393.4,102.0 393.8,103.4 394.1,104.3 394.5,105.3 394.9,106.3 395.3,108.4 395.7,108.1 396.1,109.4 396.5,110.3 397.1,112.7 397.7,113.4 398.3,115.6 399.0,116.3 399.6,117.3 400.1,117.6 400.7,120.3 401.3,121.1 401.9,122.1 402.6,122.9 403.2,123.6 403.8,124.0 404.4,126.4 405.1,126.6 406.3,126.7 407.1,126.2 407.9,127.3 408.7,126.8 409.5,128.2 410.2,126.7 410.8,124.9 411.2,123.9 411.6,123.8 411.8,122.6 412.1,121.9 412.2,120.8 412.4,119.7 412.6,118.4 412.7,117.1 412.9,116.1 413.0,114.5 413.3,113.7 413.5,112.9 413.8,111.9 414.1,110.3 414.4,109.5 414.7,108.5 415.0,109.3 415.3,106.9 415.6,106.8 416.0,107.0 416.3,105.8 416.6,105.2 416.9,103.5 417.2,103.4 417.7,103.2 418.2,100.6 418.7,99.6 419.1,98.1 419.6,96.9 420.0,95.6 420.3,94.7 420.6,92.7 420.8,91.2 421.1,90.1 421.3,88.6 421.5,87.3 421.8,85.6 422.0,83.7 422.3,82.6 422.6,81.4 422.9,79.9 423.2,78.5 423.6,77.6 424.1,76.0 424.6,74.0 425.1,74.9 425.7,72.3 426.3,72.1 426.9,71.4 427.6,70.8 428.4,70.4 429.2,68.7 429.9,70.2 430.6,69.2 431.3,68.4 432.1,68.4 432.8,67.5 433.5,66.7 434.1,66.1 434.8,64.1 435.5,61.7 436.2,61.6 436.8,60.2 437.5,58.9 438.2,57.3 439.0,55.8 439.5,56.3 439.9,55.8 440.5,53.6 441.0,54.2 441.5,53.0 442.0,52.2 442.6,52.4 443.1,51.2 443.7,50.2 444.3,50.1 445.4,47.2 446.4,47.6 447.4,46.9 448.5,45.2 449.5,46.1 450.6,45.6 451.7,44.1 452.8,44.3 453.9,45.4 455.1,46.0 456.2,43.1 457.2,44.5 458.0,44.8 458.5,43.3 458.8,42.3 459.1,41.8 459.3,41.4 459.7,40.2 460.2,42.9 461.4,39.4 462.9,40.5 463.8,40.2 464.6,40.8 465.5,39.1 466.4,37.6 467.3,42.3 468.2,39.5 469.1,39.7 469.9,39.7 471.4,41.0 472.8,39.7 474.3,39.8 475.7,38.8 477.1,37.4 478.4,37.5 479.5,35.5 480.5,33.5 481.5,36.8 482.5,35.8 483.5,41.4 484.4,40.2 485.5,40.2 486.5,39.4 487.4,42.9 488.4,40.6 489.4,42.1 490.4,43.3 491.4,43.8 492.4,45.8 493.4,46.5 494.4,49.3 495.5,48.7 496.5,49.6 497.5,48.8 498.5,48.1 499.5,47.3 500.5,46.1 501.5,47.4 502.5,48.5 503.5,50.6 504.6,47.2 505.6,48.1 506.7,50.8 507.7,49.6 508.6,51.9 509.5,51.9 510.3,52.6 511.2,53.2 511.9,55.3 512.7,55.2 513.4,55.2 514.0,55.3 514.6,55.3 515.1,54.2 515.6,51.8 516.2,51.9 517.0,52.1 518.0,53.3 519.3,52.9 520.6,52.4 521.9,50.8 523.2,51.4 524.3,54.0 525.2,51.3 526.0,51.9 526.7,50.7 527.4,47.7 528.2,47.8 529.1,46.5 530.0,49.1 531.1,47.3 532.2,44.8 533.3,46.3 534.3,43.8 535.2,45.1 535.7,45.7 536.2,45.5 536.7,45.7 537.1,43.5 537.5,41.8 538.0,44.4" fill="none" stroke="#000000" stroke-width="3.0" stroke-linejoin="round" stroke-linecap="round"/>
<path d="M324.0,37.6 324.3,38.5 324.6,40.7 324.9,41.1 325.2,41.3 325.6,41.4 326.0,42.2 326.4,44.0 326.9,45.4 327.4,45.4 328.0,46.4 328.5,47.1 329.0,48.4 329.6,45.2 330.2,45.4 330.5,44.7 330.8,44.1 331.1,43.0 331.4,41.4 331.8,40.8 332.1,39.3 333.0,39.2 334.0,38.4 335.0,38.1 336.2,35.8 337.4,35.1 338.7,38.1 340.1,35.9 341.0,37.8 342.0,35.8 343.0,32.9 344.0,36.0 345.1,36.5 346.2,33.9 347.2,31.5 348.3,35.3 349.3,34.0 350.4,34.5 351.3,29.8 352.2,34.6 353.4,29.8 354.6,32.2 355.8,34.5 356.8,30.0 357.7,30.6 358.5,33.1 359.2,35.3 359.6,36.3 359.6,36.7 359.7,37.7 359.7,38.7 359.7,39.8 359.7,41.0 359.7,42.2 359.8,43.7 359.8,45.1 359.9,46.7 359.9,48.2 360.0,49.5 360.0,51.1 360.1,52.8 360.1,54.3 360.2,55.8 360.2,57.3 360.3,58.8 360.3,60.3 360.3,61.7 360.3,63.2 360.3,64.7 360.4,66.1 360.4,67.6 360.4,69.0 360.4,70.5 360.4,72.1 360.4,73.7 360.4,75.3 360.5,76.9 360.5,78.5 360.5,80.1 360.5,81.7 360.5,83.3 360.5,84.9 360.5,86.5 360.5,88.1 360.5,89.6 360.5,91.1 360.5,92.6 360.5,94.1 360.5,95.7 360.5,97.2 360.5,98.7 360.5,100.2 360.5,101.7 360.5,103.2 360.5,104.7 360.5,106.3 360.5,107.8 360.5,109.3 360.5,110.8 360.5,112.2 360.5,113.7 360.5,115.2 360.5,116.7 360.5,118.2 360.5,119.7 360.5,121.2 360.5,122.7 360.5,124.2 360.5,125.7 360.5,127.2 360.5,128.7 360.5,130.2 360.5,131.7 360.6,133.3 360.6,134.8 360.6,136.3 360.6,137.8 360.6,139.3 360.6,140.9 360.6,142.4 360.6,143.9 360.6,145.4 360.6,147.0 360.6,148.5 360.6,150.0 360.6,151.6 360.6,153.2 360.6,154.7 360.6,156.3 360.6,157.9 360.6,159.4 360.6,161.0 360.7,162.6 360.7,164.2 360.7,165.7 360.7,167.3 360.7,168.9 360.7,170.5 360.7,172.0 360.7,173.6 360.7,175.2 360.7,176.8 360.7,178.3 360.7,179.9 360.7,181.5 360.7,183.0 360.7,184.6 360.7,186.2 360.7,187.8 360.8,189.4 360.8,191.0 360.8,192.6 360.8,194.2 360.8,195.8 360.8,197.4 360.8,199.0 360.8,200.6 360.8,202.2 360.8,203.7 360.8,205.3 360.8,206.9 360.8,208.5 360.8,210.1 360.8,211.7 360.8,213.3 360.8,214.9 360.8,216.5 360.8,218.1 360.8,219.7 360.8,221.3 360.8,222.9 360.8,224.5 360.9,226.1 360.9,227.7 360.9,229.3 360.9,230.9 360.9,232.4 360.9,234.0 360.9,235.6 360.9,237.2 360.9,238.8 360.9,240.4 360.9,242.0 360.9,243.6 360.9,245.2 360.9,246.7 360.9,248.3 360.9,249.9 360.9,251.5 360.9,253.1 360.9,254.7 360.9,256.3 360.9,257.8 360.9,259.4 360.9,261.0 360.9,262.6 360.9,264.2 360.9,265.8 360.9,267.4 360.9,269.0 360.9,270.6 360.9,272.1 360.9,273.7 361.0,275.2 361.0,276.8 361.0,278.4 361.0,279.9 361.0,281.5 361.0,283.0 361.0,284.6 361.0,286.1 361.0,287.7 361.0,289.3 361.0,290.8 361.0,292.4 361.0,293.9 361.0,295.5 361.0,297.0 361.0,298.6 361.0,300.1 361.0,301.7 361.0,303.2 361.0,304.8 361.0,306.4 361.0,307.9 361.0,309.5 361.0,311.0 361.0,312.6 361.0,314.1 361.0,315.7 361.0,317.2 361.0,318.8 361.0,320.3 361.0,321.9 361.0,323.4 361.0,325.0 361.0,326.5 361.0,328.1 361.0,329.6 361.1,331.2 361.1,332.7 361.1,334.3 361.1,335.8 361.1,337.4 361.1,338.9 361.1,340.5 361.1,342.0 361.1,343.6 361.1,345.1 361.1,346.7 361.1,348.2 361.1,349.8 361.1,351.3 361.1,352.9 361.1,354.4 361.1,356.0 361.1,357.5 361.1,359.1 361.1,360.6 361.1,362.2 361.1,363.8 361.1,365.4 361.1,366.9 361.1,368.5 361.1,370.1 361.1,371.7 361.1,373.2 361.1,374.8 361.1,376.4 361.1,378.0 361.2,379.5 361.2,381.1 361.2,382.7 361.2,384.3 361.2,385.8 361.2,387.4 361.2,389.0 361.2,390.5 361.2,392.1 361.2,393.7 361.2,395.3 361.2,396.9 361.2,398.4 361.2,400.0 361.2,401.6 361.2,403.1 361.2,404.7 361.2,406.2 361.2,407.8 361.2,409.3 361.2,410.9 361.2,412.5 361.2,414.0 361.2,415.6 361.2,417.2 361.2,418.7 361.3,420.3 361.3,421.8 361.3,423.4 361.3,425.0 361.3,426.5 361.3,428.1 361.3,429.6 361.3,431.2 361.3,432.8 361.3,434.3 361.3,435.8 361.3,437.4 361.3,438.9 361.3,440.5 361.3,442.0 361.3,443.5 361.3,445.1 361.3,446.6 361.3,448.2 361.3,449.7 361.3,451.2 361.3,452.8 361.3,454.3 361.3,455.9 361.3,457.4 361.3,458.9 361.3,460.5 361.4,462.0 361.4,463.6 361.4,465.1 361.4,466.7 361.4,468.2 361.4,469.8 361.4,471.4 361.4,472.9 361.4,474.5 361.4,476.1 361.4,477.6 361.4,479.2 361.4,480.7 361.4,482.3 361.4,483.9 361.4,485.4 361.4,487.0 361.4,488.6 361.4,490.1 361.4,491.7 361.4,493.3 361.4,494.8 361.4,496.4 361.4,498.0 361.4,499.5 361.4,501.1 361.5,502.6 361.5,504.2 361.5,505.8 361.5,507.3 361.5,508.9 361.5,510.4 361.5,512.0 361.5,513.6 361.5,515.1 361.5,516.7 361.5,518.3 361.5,519.8 361.5,521.4 361.5,522.9 361.5,524.5 361.5,526.1 361.5,527.6 361.5,529.1 361.5,530.6 361.5,532.1 361.6,533.6 361.6,535.1 361.6,536.6 361.6,538.1 361.6,539.6 361.6,541.1 361.6,542.6 361.6,544.1 361.6,545.6 361.6,547.1 361.6,548.6 361.7,550.1 361.7,551.5 361.7,553.3 361.7,551.7 361.7,550.3 361.7,549.0 361.8,547.7 361.8,546.1 361.8,544.6 361.8,543.1 361.8,541.5 361.8,540.0 361.8,538.4 361.8,536.9 361.8,535.4 361.8,533.8 361.8,532.3 361.8,530.8 361.8,529.3 361.8,527.9 361.8,526.4 361.8,524.9 361.8,523.4 361.8,521.9 361.8,520.4 361.8,519.0 361.8,517.5 361.8,516.0 361.8,514.5 361.9,512.9 361.9,511.4 361.9,509.9 361.9,508.3 361.9,506.8 361.9,505.2 361.9,503.7 361.9,502.1 361.9,500.6 361.9,499.0 361.9,497.5 361.9,495.9 361.9,494.4 361.9,492.8 361.9,491.3 361.9,489.9 361.9,488.4 361.9,486.9 362.0,485.4 362.0,483.9 362.0,482.4 362.0,480.9 362.0,479.4 362.0,477.9 362.0,476.5 362.0,475.0 362.0,473.5 362.0,471.9 362.0,470.5 362.1,468.9 362.1,467.3 362.1,465.8 362.1,464.3 362.1,462.7 362.1,461.2 362.2,459.6 362.2,458.1 362.2,456.5 362.2,455.0 362.2,453.6 362.3,452.2 362.3,450.8 362.3,449.3 362.3,448.0 362.4,446.5 362.4,445.1 362.4,443.6 362.5,442.1 362.5,440.6 362.5,439.1 362.6,437.7 362.6,436.2 362.7,434.6 362.7,433.3 362.8,431.8 362.8,430.4 362.8,428.9 362.9,427.5 362.9,426.1 363.0,424.6 363.0,423.2 363.1,421.8 363.1,420.4 363.2,418.9 363.2,417.4 363.2,416.0 363.3,414.4 363.3,412.9 363.4,411.5 363.4,409.9 363.4,408.5 363.5,407.0 363.5,405.7 363.5,404.2 363.5,402.8 363.6,401.4 363.6,400.0 363.6,398.5 363.6,397.0 363.7,395.5 363.7,394.0 363.7,392.5 363.7,391.0 363.7,389.5 363.8,388.1 363.8,386.6 363.8,385.0 363.8,383.6 363.8,382.1 363.8,380.6 363.8,379.2 363.9,377.7 363.9,376.2 363.9,374.8 363.9,373.3 363.9,371.8 363.9,370.3 363.9,368.9 363.9,367.3 364.0,365.8 364.0,364.2 364.0,362.7 364.0,361.1 364.0,359.6 364.0,358.0 364.0,356.5 364.0,355.0 364.0,353.4 364.0,351.9 364.0,350.3 364.1,348.7 364.1,347.1 364.1,345.5 364.1,343.9 364.1,342.3 364.1,340.8 364.1,339.2 364.1,337.6 364.1,336.0 364.1,334.4 364.1,332.8 364.1,331.3 364.1,329.7 364.1,328.1 364.2,326.5 364.2,324.9 364.2,323.3 364.2,321.8 364.2,320.2 364.2,318.6 364.2,317.0 364.2,315.5 364.2,313.9 364.2,312.4 364.2,310.8 364.2,309.3 364.3,307.7 364.3,306.2 364.3,304.6 364.3,303.1 364.3,301.5 364.3,300.0 364.3,298.5 364.3,296.9 364.3,295.4 364.3,293.9 364.4,292.4 364.4,290.8 364.4,289.3 364.4,287.8 364.4,286.2 364.4,284.7 364.4,283.2 364.4,281.7 364.4,280.1 364.4,278.6 364.5,277.0 364.5,275.5 364.5,274.0 364.5,272.4 364.5,270.9 364.5,269.3 364.5,267.8 364.5,266.3 364.5,264.7 364.5,263.2 364.6,261.6 364.6,260.1 364.6,258.5 364.6,257.0 364.6,255.5 364.6,253.9 364.6,252.4 364.6,250.8 364.6,249.3 364.6,247.8 364.7,246.2 364.7,244.7 364.7,243.2 364.7,241.7 364.7,240.1 364.7,238.6 364.7,237.1 364.7,235.6 364.7,234.1 364.8,232.5 364.8,231.0 364.8,229.5 364.8,228.0 364.8,226.5 364.8,225.0 364.8,223.5 364.8,222.0 364.8,220.5 364.8,219.0 364.9,217.5 364.9,216.0 364.9,214.6 364.9,213.1 364.9,211.7 364.9,210.2 364.9,208.7 364.9,207.3 365.0,205.8 365.0,204.4 365.0,202.9 365.0,201.5 365.0,200.0 365.0,198.4 365.0,196.9 365.0,195.4 365.1,193.8 365.1,192.2 365.1,190.6 365.1,189.1 365.1,187.6 365.1,186.0 365.1,184.5 365.2,183.0 365.2,181.4 365.2,179.9 365.2,178.4 365.2,176.8 365.2,175.3 365.2,173.8 365.3,172.3 365.3,170.7 365.3,169.2 365.3,167.7 365.3,166.3 365.3,164.7 365.3,163.2 365.4,161.7 365.4,160.2 365.4,158.7 365.4,157.2 365.4,155.8 365.4,154.3 365.5,152.8 365.5,151.4 365.5,149.9 365.5,148.4 365.5,147.0 365.5,145.5 365.5,144.1 365.6,142.6 365.6,141.1 365.6,139.8 365.6,138.3 365.6,136.9 365.6,135.4 365.6,134.0 365.7,132.6 365.7,131.0 365.7,129.4 365.7,127.8 365.7,126.3 365.7,124.7 365.8,123.2 365.8,121.6 365.8,120.0 365.8,118.4 365.8,116.9 365.8,115.4 365.9,113.8 365.9,112.2 365.9,110.7 365.9,109.1 365.9,107.6 365.9,106.0 365.9,104.4 365.9,102.9 366.0,101.3 366.0,99.7 366.0,98.2 366.0,96.6 366.0,95.1 366.0,93.6 366.0,92.1 366.0,90.5 366.1,89.0 366.1,87.5 366.1,86.0 366.1,84.6 366.1,83.1 366.1,81.6 366.1,80.2 366.2,78.8 366.2,77.2 366.2,75.7 366.2,74.2 366.2,72.7 366.3,71.2 366.3,69.6 366.3,68.0 366.3,66.7 366.4,65.4 366.4,64.0 366.4,62.7 366.5,61.3 366.5,60.0 366.5,58.6 366.6,57.2 366.6,55.8 366.6,54.4 366.6,53.1 366.6,51.7 366.6,50.5 366.6,49.2 366.6,47.9 366.7,46.9 366.7,45.9 366.7,44.7 366.9,43.4 367.0,42.0 367.3,41.3 367.5,39.6 367.7,39.9 368.0,38.8 368.2,38.5 368.5,38.5 368.8,38.1 369.2,37.1 369.7,37.7 370.2,37.0 370.8,40.2 371.5,39.5 372.1,38.6 372.8,41.1 373.9,41.3 375.1,41.1 376.3,40.8 377.6,42.4 378.8,43.7 379.4,44.9 380.0,44.1 380.7,44.6 381.4,47.6 382.1,47.8 382.8,47.9 383.5,48.1 384.2,50.1 384.9,51.6 385.5,52.4 386.2,53.6 386.8,54.2 387.5,55.9 388.1,56.0 388.8,57.2 389.4,58.3 390.1,59.4 390.7,62.1 391.3,61.2 392.0,63.5 392.6,64.1 393.2,65.1 393.7,67.1 394.3,67.5 394.9,69.5 395.4,71.9 395.9,72.1 396.4,73.7 396.9,74.4 397.4,76.3 397.8,76.9 398.2,78.9 398.7,80.2 399.1,82.5 399.5,83.0 399.9,84.3 400.4,85.6 400.8,86.7 401.3,89.0 401.7,90.8 402.1,91.1 402.4,92.6 402.7,93.3 403.0,94.6 403.4,95.7 403.7,96.0 404.0,97.3 404.3,99.0 404.6,98.9 405.1,101.2 405.5,102.5 405.9,103.6 406.3,105.3 406.5,106.3 406.8,107.2 407.0,106.9 407.2,109.3 407.7,110.0 408.1,112.1 408.5,113.0 409.0,114.1 409.4,115.5 409.9,118.2 410.3,118.8 410.8,118.8 411.2,119.9 411.7,121.4 412.4,119.7 412.7,118.5 413.0,117.5 413.4,116.0 413.7,115.5 414.0,114.3 414.4,113.4 414.8,111.1 415.2,110.3 415.6,109.0 416.0,108.7 416.4,107.2 416.8,106.1 417.2,104.7 417.6,105.4 418.1,104.3 418.5,104.2 419.4,101.7 420.3,103.8 421.0,100.0 421.6,101.9 422.2,102.9 422.4,104.0 422.7,104.3 422.9,105.0 423.1,106.0 423.3,107.5 423.5,108.3 423.8,109.2 424.0,109.7 424.3,111.1 424.5,112.2 424.8,113.6 425.0,114.3 425.2,115.8 425.5,117.8 425.7,118.4 425.9,119.6 426.2,120.3 426.5,120.4 427.0,120.7 427.5,122.0 428.0,120.5 428.5,120.5 429.0,117.4 429.2,116.5 429.5,116.3 430.0,114.5 430.3,114.6 430.7,112.8 431.0,112.1 431.3,110.2 431.7,109.8 432.0,108.6 432.3,107.6 432.7,106.0 433.0,104.9 433.4,103.6 433.7,102.7 434.1,100.9 434.5,100.1 435.0,98.3 435.4,97.6 435.9,95.8 436.4,94.3 436.8,93.0 437.3,92.7 437.8,90.1 438.2,88.9 438.6,88.7 439.0,86.9 439.4,86.1 439.8,84.9 440.2,85.1 440.5,82.9 440.8,81.9 441.1,81.0 441.5,80.1 441.8,79.0 442.2,77.1 442.5,76.5 442.9,75.6 443.3,72.8 443.7,72.2 444.1,70.8 444.5,69.1 445.0,67.6 445.4,65.2 445.9,65.6 446.4,63.6 446.8,62.9 447.2,62.9 447.6,60.0 448.1,60.7 448.5,60.4 449.0,59.8 449.4,59.1 449.9,59.4 450.8,56.9 451.2,56.8 451.7,55.9 452.6,53.1 453.4,52.4 454.3,53.3 455.1,50.4 456.1,49.3 456.5,47.7 457.0,47.8 457.7,46.1 458.4,45.6 459.1,45.3 459.9,43.3 460.6,42.3 461.4,42.5 462.2,40.7 462.9,39.6 463.6,38.9 464.3,36.8 464.9,36.0 465.5,34.0 466.1,34.7 466.6,33.2 467.1,32.4 467.5,30.8 468.1,31.0 468.7,30.2 469.7,28.6 470.2,26.6 470.8,26.5 471.4,26.4 472.0,25.1 472.6,25.5 473.2,25.5 473.9,23.3 474.6,23.4 475.9,22.1 477.2,24.7 478.6,24.5 480.1,27.1 480.8,24.3 481.5,23.6 482.3,25.5 483.0,25.1 484.4,26.3 485.1,27.9 485.9,26.5 486.6,28.0 487.4,25.2 488.1,29.1 488.9,28.5 489.6,28.5 490.3,28.6 491.0,31.1 491.7,29.5 492.9,32.1 493.8,31.4 494.6,32.8 495.4,34.1 496.2,36.5 496.9,35.8 497.7,36.2 498.5,35.5 499.3,34.6 500.0,33.5 500.9,34.6 501.7,34.0 502.5,31.0 503.5,32.6 504.5,32.1 505.5,35.0 506.5,35.9 507.5,36.4 508.6,36.1 509.6,38.4 510.5,38.5 511.5,37.6 512.5,39.1 513.6,36.0 514.6,37.3 515.8,36.8 517.0,38.6 518.2,41.2 519.4,38.4 520.7,40.1 521.9,38.2 523.1,37.5 524.3,39.2 525.5,38.3 526.6,39.3 527.9,38.6 529.1,35.7 530.5,33.0 532.0,37.4 533.5,35.7 535.0,35.7 536.5,35.8 538.0,37.3" fill="none" stroke="#0000ff" stroke-width="3.0" stroke-linejoin="round" stroke-linecap="round"/>
<path d="M324.0,65.9 324.3,66.4 324.5,68.2 324.8,66.3 325.0,67.5 325.3,67.1 325.6,67.8 326.1,69.4 326.7,70.9 327.4,71.3 328.0,74.0 328.7,73.3 329.3,75.7 330.0,73.7 330.3,73.4 330.7,72.3 331.0,70.9 331.3,70.1 331.6,68.2 332.0,66.9 332.5,66.2 332.9,66.0 333.5,63.8 334.1,63.0 334.9,64.5 335.7,62.3 336.6,61.8 337.6,60.1 338.6,61.0 339.7,61.3 340.8,60.1 341.9,60.9 343.0,60.0 344.1,60.7 345.1,60.1 346.2,58.5 347.3,59.5 348.3,60.3 349.5,58.0 350.6,55.6 351.7,57.1 352.9,56.2 353.9,59.7 355.0,57.0 355.9,54.1 356.9,55.5 358.3,57.8 359.3,56.8 359.5,58.2 359.7,59.2 359.8,60.3 359.9,61.4 359.9,62.7 359.9,64.0 359.9,65.4 359.9,66.8 359.9,68.4 360.0,70.0 360.1,71.4 360.1,72.8 360.2,74.2 360.3,75.7 360.3,77.2 360.4,78.6 360.5,79.9 360.5,81.4 360.5,82.9 360.6,84.4 360.6,85.9 360.6,87.3 360.7,88.8 360.7,90.2 360.7,91.8 360.8,93.2 360.8,94.7 360.8,96.2 360.8,97.8 360.9,99.3 360.9,100.8 360.9,102.3 360.9,103.8 360.9,105.3 361.0,106.8 361.0,108.3 361.0,109.9 361.0,111.4 361.0,113.0 361.1,114.5 361.1,116.1 361.1,117.6 361.1,119.2 361.1,120.7 361.1,122.3 361.2,123.8 361.2,125.4 361.2,127.0 361.2,128.6 361.2,130.2 361.2,131.8 361.3,133.4 361.3,135.0 361.3,136.6 361.3,138.2 361.3,139.7 361.4,141.2 361.4,142.6 361.4,144.1 361.4,145.7 361.5,147.1 361.5,148.5 361.5,150.0 361.5,151.6 361.6,153.2 361.6,154.8 361.6,156.4 361.7,157.6 361.7,158.9 361.7,160.3 361.7,161.6 361.8,162.8 361.8,164.4 361.8,165.9 361.9,167.5 361.9,169.1 361.9,170.3 362.0,171.5 362.0,173.0 362.0,174.1 362.1,175.3 362.1,176.6 362.2,177.6 362.3,179.0 362.4,177.7 362.5,176.5 362.5,175.1 362.6,174.0 362.6,172.7 362.7,171.4 362.7,170.1 362.7,168.8 362.8,167.2 362.8,165.7 362.9,164.2 362.9,162.6 362.9,161.4 363.0,160.0 363.0,158.7 363.0,157.4 363.0,156.0 363.1,154.5 363.1,153.1 363.2,151.5 363.2,150.0 363.2,148.5 363.3,146.9 363.3,145.5 363.3,143.9 363.4,142.4 363.4,140.9 363.4,139.4 363.4,137.9 363.5,136.4 363.5,134.9 363.5,133.4 363.5,131.9 363.6,130.4 363.6,128.8 363.6,127.2 363.6,125.7 363.7,124.1 363.7,122.5 363.7,120.9 363.7,119.4 363.8,117.8 363.8,116.2 363.8,114.7 363.9,113.1 363.9,111.6 363.9,110.0 363.9,108.5 364.0,107.1 364.0,105.6 364.0,104.1 364.1,102.8 364.1,101.3 364.2,99.9 364.2,98.6 364.2,97.0 364.3,95.6 364.3,94.1 364.4,92.7 364.4,91.4 364.5,90.0 364.5,88.7 364.6,87.3 364.6,85.8 364.7,84.6 364.7,83.3 364.7,82.0 364.8,80.7 364.8,79.5 364.8,78.3 364.9,77.2 364.9,76.0 365.0,75.0 365.2,74.0 365.4,72.0 365.7,70.5 366.0,69.9 366.4,68.7 366.9,68.6 367.4,66.8 368.0,66.6 368.6,65.4 369.2,64.7 369.7,66.5 370.3,66.2 370.9,66.2 371.5,67.1 372.2,65.9 372.8,67.2 373.8,68.0 374.8,69.6 375.8,67.3 376.9,69.6 377.9,71.3 378.8,71.6 379.4,72.9 379.9,74.2 380.4,75.0 380.9,74.9 381.3,76.4 381.8,76.8 382.2,79.6 382.7,80.6 383.1,82.3 383.6,83.0 384.0,83.6 384.5,85.9 385.1,86.2 385.7,88.3 386.1,89.1 386.5,90.6 386.9,91.7 387.3,92.0 387.7,92.9 388.1,94.2 388.5,95.0 388.9,96.8 389.3,97.5 389.8,99.1 390.2,100.7 390.6,100.0 391.0,101.2 391.4,102.7 391.8,103.7 392.2,104.3 392.6,104.7 393.0,107.8 393.4,107.6 393.8,108.0 394.2,108.4 394.6,111.2 395.0,111.7 395.4,112.6 395.8,113.1 396.2,114.6 396.6,115.4 397.0,115.4 397.4,119.0 397.8,118.9 398.2,119.5 398.6,120.2 399.0,121.4 399.4,123.9 399.8,124.0 400.2,124.2 400.6,126.3 401.0,127.2 401.4,128.3 401.8,129.1 402.2,130.1 402.6,131.4 403.0,132.2 403.4,132.7 403.8,133.9 404.4,135.9 405.0,136.4 405.7,138.5 406.3,139.6 406.8,141.1 407.2,141.5 407.7,142.1 408.2,143.0 408.6,144.2 409.1,145.4 409.6,144.6 410.1,144.8 410.9,146.1 411.7,144.4 412.5,145.6 412.9,145.3 413.2,144.2 413.5,142.8 413.7,140.9 413.9,139.7 414.1,138.4 414.2,137.2 414.4,136.2 414.6,135.2 414.8,133.9 415.1,131.7 415.4,130.9 415.8,129.2 416.2,127.5 416.6,126.2 417.1,125.0 417.4,123.7 417.7,122.3 418.0,122.9 418.4,119.8 418.9,118.7 419.4,117.5 419.8,115.1 420.3,114.3 420.8,112.2 421.2,111.2 421.7,109.7 422.1,109.5 422.5,106.9 423.0,106.5 423.4,105.0 423.9,102.9 424.3,103.4 424.8,101.1 425.3,100.0 425.8,99.0 426.3,97.2 426.9,96.0 427.4,95.2 428.1,93.4 428.7,92.7 429.3,92.2 430.0,89.6 430.6,88.0 431.3,87.7 431.9,86.8 432.5,85.7 433.1,83.5 433.7,81.6 434.2,82.3 434.7,81.1 435.1,80.4 435.6,78.1 436.0,77.8 436.4,76.9 436.8,74.5 437.3,74.8 437.7,74.0 438.1,72.5 438.6,71.5 439.0,70.6 439.4,69.1 439.9,67.6 440.3,66.9 440.7,66.5 441.1,65.2 441.6,65.4 442.0,63.7 442.4,63.0 442.9,61.2 443.4,61.6 443.8,60.0 444.3,60.5 444.8,57.6 445.3,58.0 445.8,56.6 446.3,55.7 446.8,56.1 447.4,54.8 447.9,52.7 448.4,53.3 449.0,51.1 449.5,51.2 450.1,48.6 450.7,48.8 451.3,48.0 451.9,47.2 452.5,45.5 453.1,44.5 453.7,45.3 454.3,45.1 454.9,44.0 455.6,43.0 456.2,41.4 456.8,41.7 457.4,40.8 458.0,40.0 458.6,40.0 459.3,39.4 460.0,38.8 460.7,37.5 461.5,36.3 462.2,36.1 462.8,35.3 463.4,33.6 464.2,33.6 464.4,32.8 464.1,30.1 463.5,31.8 462.9,32.2 462.2,34.3 461.6,32.8 461.4,33.4 461.7,34.1 462.7,32.2 463.4,32.0 464.1,30.5 464.9,31.6 465.7,30.3 466.5,29.8 467.3,28.1 468.0,27.9 468.7,27.7 469.9,27.9 471.0,28.5 472.2,24.5 473.4,25.4 474.6,24.9 475.9,28.3 477.3,24.1 478.7,23.1 480.2,24.9 481.7,21.4 483.1,24.4 484.4,21.1 485.6,26.7 486.6,25.0 487.6,25.7 488.6,26.1 489.5,28.4 490.4,29.7 490.8,29.9 491.3,32.0 491.7,31.8 492.1,33.0 492.5,34.0 492.9,35.6 493.2,35.3 493.6,36.4 494.4,37.9 495.3,39.1 496.0,35.4 496.8,38.9 497.6,36.8 498.4,35.3 499.2,35.1 500.1,32.3 501.1,32.9 502.1,33.1 503.2,33.6 504.2,31.2 505.2,31.5 506.2,30.5 507.3,32.6 507.8,32.3 508.3,33.8 508.8,34.4 509.2,35.1 509.7,36.2 510.2,37.5 510.7,39.6 511.2,42.6 512.2,40.3 513.0,39.4 513.7,41.0 514.5,40.3 515.4,38.6 516.2,41.0 517.0,39.4 517.8,39.4 518.6,37.9 519.5,37.8 520.3,39.0 521.1,35.1 521.9,35.8 522.7,36.8 523.5,34.3 524.3,37.9 525.1,34.6 525.9,34.3 526.7,34.9 527.7,36.2 528.7,33.6 529.7,32.2 530.7,31.5 531.7,32.8 532.7,31.3 533.6,35.0 534.5,33.0 535.4,26.6 536.2,29.2 537.1,30.6 538.0,32.9" fill="none" stroke="#ff0000" stroke-width="3.0" stroke-linejoin="round" stroke-linecap="round"/>
<path d="M324.0,82.7 324.3,84.1 324.5,85.6 324.7,84.8 325.0,85.7 325.3,85.7 325.6,87.0 326.1,86.4 326.7,88.0 327.4,87.7 328.1,90.4 328.7,90.7 329.3,90.1 330.2,89.0 330.6,87.8 330.9,86.5 331.1,85.6 331.4,84.6 331.6,83.5 331.8,82.2 332.0,81.1 332.3,79.9 332.5,79.1 332.8,78.0 333.1,77.7 333.6,75.5 334.1,74.4 335.0,72.7 335.9,72.1 336.9,70.7 338.0,69.4 339.1,69.4 340.1,69.8 341.1,66.8 342.0,66.1 343.0,65.8 343.9,65.3 345.0,65.6 346.2,62.8 347.1,62.8 348.1,61.5 349.1,60.8 350.2,60.6 351.4,59.2 352.6,60.3 353.7,60.6 354.8,58.2 355.8,57.6 356.8,60.5 358.3,58.4 358.9,60.6 359.5,59.0 359.7,61.7 360.0,62.9 360.0,64.3 360.0,65.6 360.1,66.8 360.0,68.1 360.0,69.6 359.9,70.9 359.9,72.5 359.8,74.0 359.8,75.4 359.8,77.0 359.8,78.5 359.8,80.0 359.9,81.4 359.9,82.9 360.0,84.4 360.0,85.8 360.1,87.2 360.1,88.7 360.1,90.2 360.2,91.6 360.2,93.1 360.3,94.6 360.3,96.1 360.3,97.6 360.4,99.2 360.4,100.5 360.4,101.9 360.4,103.3 360.5,104.7 360.5,106.2 360.5,107.5 360.6,109.0 360.6,110.3 360.6,111.8 360.6,113.2 360.7,114.6 360.7,116.0 360.7,117.4 360.7,118.8 360.8,120.2 360.8,121.6 360.8,123.1 360.8,124.5 360.9,125.9 360.9,127.4 360.9,128.8 360.9,130.4 361.0,131.7 361.0,133.1 361.1,134.5 361.1,135.9 361.1,137.2 361.2,138.5 361.2,139.9 361.2,141.3 361.3,142.5 361.3,143.9 361.4,145.2 361.4,146.3 361.5,147.7 361.5,148.9 361.5,150.0 361.6,151.2 361.7,152.7 361.7,154.2 361.8,155.3 361.9,155.9 362.0,157.3 362.2,156.2 362.2,155.2 362.3,154.2 362.4,152.8 362.5,151.4 362.6,150.0 362.6,148.9 362.7,147.6 362.7,146.4 362.8,145.2 362.8,143.8 362.9,142.6 362.9,141.3 363.0,140.0 363.0,138.7 363.1,137.3 363.1,135.8 363.2,134.5 363.2,132.9 363.3,131.7 363.3,130.2 363.3,128.7 363.4,127.4 363.4,125.8 363.4,124.4 363.4,122.9 363.5,121.5 363.5,120.0 363.5,118.6 363.6,117.2 363.6,115.8 363.6,114.3 363.6,112.9 363.7,111.6 363.7,110.1 363.7,108.7 363.7,107.3 363.8,105.9 363.8,104.5 363.8,103.0 363.8,101.6 363.9,100.1 363.9,98.8 363.9,97.2 364.0,95.8 364.0,94.4 364.1,92.8 364.1,91.4 364.1,89.9 364.2,88.4 364.2,87.0 364.3,85.5 364.3,84.2 364.4,82.9 364.4,81.3 364.5,80.0 364.6,78.8 364.6,77.3 364.7,76.1 364.7,74.9 364.7,73.8 364.8,72.5 364.8,71.5 364.9,70.3 364.9,69.2 365.0,67.6 365.1,66.0 365.3,64.9 365.5,63.4 365.7,62.8 366.0,62.1 366.3,61.7 366.5,62.1 366.8,61.8 367.1,59.3 367.5,59.3 368.0,62.0 369.1,59.5 370.4,58.8 371.9,61.1 373.5,58.4 375.0,60.9 376.4,59.5 377.5,61.9 378.6,60.9 379.7,62.5 380.7,63.6 381.6,64.9 382.5,64.1 383.0,65.2 383.6,65.4 384.0,66.2 384.5,67.8 385.0,69.2 385.4,70.7 385.8,71.0 386.3,73.2 386.7,73.3 387.1,74.8 387.6,75.2 388.1,75.6 388.7,78.3 389.2,78.1 389.8,80.0 390.4,80.1 391.0,81.7 391.6,82.2 392.3,83.1 392.9,84.3 393.4,85.8 394.0,85.7 394.5,86.9 395.0,89.0 395.4,89.2 395.8,90.6 396.2,91.0 396.6,92.5 396.9,94.1 397.3,94.7 397.6,95.9 397.9,96.7 398.2,97.9 398.5,98.2 398.9,99.4 399.2,101.3 399.6,101.5 399.9,103.9 400.3,104.9 400.6,105.2 401.0,106.0 401.4,107.0 401.7,109.3 402.1,110.3 402.4,112.0 402.8,112.8 403.1,114.4 403.5,115.3 403.9,115.6 404.2,117.0 404.6,117.8 404.9,119.1 405.3,120.1 405.6,121.3 406.0,123.1 406.3,123.3 406.7,124.1 407.0,125.4 407.4,126.4 407.7,127.3 408.0,128.3 408.2,128.9 408.8,131.1 409.3,132.4 409.8,132.9 410.4,135.1 410.9,136.7 411.4,137.3 411.9,138.2 412.4,140.1 412.9,141.1 413.4,142.5 414.0,142.8 414.5,145.6 415.0,145.3 415.6,146.7 416.1,146.8 416.6,148.0 417.0,145.6 417.5,146.6 417.7,145.6 417.9,145.6 418.0,143.9 418.2,142.7 418.3,141.7 418.4,140.1 418.5,138.7 418.7,137.6 418.8,136.3 419.0,135.1 419.2,134.1 419.4,132.4 419.6,132.1 419.8,130.9 420.0,129.9 420.2,127.7 420.4,127.0 420.6,126.1 421.0,125.8 421.4,125.1 421.6,125.8 421.8,126.1 421.9,127.1 422.1,128.3 422.2,129.7 422.2,131.1 422.3,132.2 422.4,133.3 422.5,134.7 422.6,136.1 422.6,137.4 422.7,138.6 422.8,139.8 422.9,140.7 423.0,142.2 423.1,143.4 423.5,145.1 423.7,143.8 424.0,143.5 424.2,142.2 424.3,140.5 424.5,139.1 424.6,137.8 424.8,136.4 424.9,135.1 425.1,133.5 425.2,132.5 425.3,130.9 425.5,129.5 425.6,128.3 425.8,126.6 426.0,125.6 426.2,124.6 426.4,123.3 426.7,122.6 427.0,123.1 427.2,124.7 427.4,125.7 427.5,126.5 427.6,128.1 427.8,129.0 427.9,130.6 428.0,132.3 428.2,133.8 428.3,135.6 428.4,136.9 428.6,138.5 428.7,140.1 428.8,141.8 429.0,143.2 429.1,144.1 429.2,145.4 429.4,146.3 429.6,147.6 429.9,147.5 430.3,148.1 430.4,146.6 430.5,145.0 430.6,144.1 430.8,142.6 430.9,141.0 431.0,139.5 431.1,138.5 431.2,137.1 431.3,135.9 431.4,134.7 431.6,133.6 431.8,131.8 432.1,130.6 432.5,129.1 433.0,128.0 433.6,126.6 434.4,125.8 435.2,125.1 436.0,125.8 436.7,125.2 437.3,124.2 437.7,123.6 438.0,123.5 438.2,121.7 438.5,119.9 438.6,119.2 438.8,117.7 438.9,116.2 439.0,115.1 439.1,113.6 439.2,112.5 439.3,111.0 439.5,110.2 439.7,109.1 439.8,108.7 440.1,107.3 440.5,105.2 440.8,104.4 441.1,102.9 441.3,101.9 441.5,100.6 441.8,99.8 442.1,98.2 442.3,97.5 442.5,95.9 442.7,95.3 442.9,94.0 443.1,93.5 443.3,91.4 443.5,90.8 443.7,89.3 443.9,88.0 444.2,87.5 444.4,86.3 444.7,85.3 445.0,82.9 445.4,81.6 445.7,81.1 446.0,79.5 446.4,79.4 446.7,78.5 447.1,76.7 447.4,75.8 447.8,74.9 448.1,73.8 448.5,73.0 448.9,71.9 449.2,71.3 449.6,70.0 449.9,69.1 450.3,68.4 450.6,67.4 450.9,66.9 451.3,66.4 451.6,66.4 452.0,63.7 452.3,63.1 452.7,63.0 453.0,62.3 453.4,61.5 453.8,61.8 454.2,58.9 454.6,59.0 455.0,57.5 455.5,57.3 455.9,57.0 456.3,55.0 456.8,55.7 457.2,53.8 457.7,52.9 458.2,51.7 458.6,51.5 459.1,50.6 459.6,50.7 460.1,48.4 460.7,48.5 461.2,48.0 461.7,46.4 462.3,46.1 462.8,44.2 463.4,44.0 463.9,42.7 464.4,43.6 465.0,41.1 465.5,40.4 466.3,40.0 467.1,38.3 467.8,37.8 468.6,37.5 469.3,37.4 470.0,35.3 470.4,35.8 470.8,35.2 471.1,36.2 471.5,36.1 471.9,35.3 472.3,34.9 473.1,36.2 474.1,32.1 475.2,34.5 476.2,32.4 477.3,28.7 478.4,31.2 479.4,28.2 480.4,31.0 481.4,28.6 482.4,33.2 483.4,31.6 484.4,35.6 485.4,33.0 486.5,34.7 487.5,33.7 488.5,36.1 489.5,37.2 490.4,38.7 491.0,41.2 491.6,41.3 492.1,41.9 492.6,42.5 493.2,43.8 493.7,45.2 494.2,46.1 494.7,48.3 495.1,48.7 495.6,50.2 496.5,49.9 497.1,50.2 497.7,49.9 498.2,47.5 498.5,47.0 498.7,45.1 499.1,44.8 499.4,43.8 500.1,43.5 500.8,42.8 501.5,41.0 502.3,41.9 503.2,41.2 504.0,37.9 504.9,40.7 506.0,42.9 507.3,40.2 508.5,43.7 509.8,44.0 511.0,44.0 512.2,45.0 513.1,43.1 513.9,46.1 514.7,42.1 515.5,42.9 516.3,46.0 517.0,44.2 517.7,48.1 518.4,47.8 519.0,49.6 519.5,51.0 520.1,50.8 520.7,51.8 521.4,51.6 522.2,49.8 522.5,49.9 522.9,48.7 523.3,47.2 523.7,46.9 524.1,45.3 524.5,45.0 525.5,43.3 526.4,42.2 527.4,40.6 528.4,40.6 529.4,41.7 530.5,41.9 531.5,37.7 532.6,39.5 533.7,40.0 534.8,38.3 535.8,36.2 536.9,35.5 538.0,38.0" fill="none" stroke="#ff00ff" stroke-width="3.0" stroke-linejoin="round" stroke-linecap="round"/>
</g>
<g clip-path="url(#cp3)">
<path d="M538.0,79.5 538.7,79.2 539.5,78.6 540.2,75.6 540.9,76.2 541.7,73.4 542.6,74.8 543.4,76.2 544.2,71.5 545.0,72.5 545.9,72.9 546.8,71.3 547.6,73.1 548.5,71.7 549.3,72.4 550.1,72.8 550.9,74.2 551.8,75.4 552.6,76.6 553.4,76.0 554.3,75.4 555.2,76.5 556.0,77.0 556.8,77.8 557.6,79.3 558.6,80.0 559.0,80.9 559.5,81.6 559.9,82.4 560.3,83.0 560.7,84.5 561.1,85.0 561.5,85.9 561.8,86.4 562.2,87.5 562.6,88.5 563.1,90.3 563.5,90.6 564.0,93.0 564.4,94.1 564.9,95.2 565.3,96.5 565.7,98.5 566.1,99.8 566.5,100.5 566.9,102.4 567.2,103.7 567.6,105.4 567.9,106.4 568.2,108.0 568.5,108.8 568.8,110.1 569.1,111.7 569.4,112.4 569.7,113.5 569.9,114.9 570.2,115.8 570.4,117.0 570.7,118.9 570.9,120.2 571.1,121.3 571.2,123.0 571.4,124.2 571.6,125.4 571.7,126.7 571.9,128.1 572.1,129.5 572.2,131.2 572.4,132.3 572.5,134.1 572.6,135.6 572.8,137.0 572.9,138.8 573.0,140.2 573.2,142.1 573.3,143.5 573.4,144.9 573.5,146.4 573.6,147.9 573.7,149.5 573.8,151.0 573.9,152.3 574.0,154.0 574.1,155.4 574.2,156.9 574.3,158.5 574.4,160.2 574.4,161.6 574.5,163.2 574.5,164.6 574.6,166.1 574.6,167.7 574.7,169.0 574.7,170.6 574.8,172.1 574.8,173.5 574.8,175.0 574.9,176.5 574.9,178.0 574.9,179.5 575.0,181.0 575.0,182.5 575.0,184.0 575.1,185.5 575.1,186.9 575.2,188.5 575.2,190.0 575.2,191.4 575.3,192.9 575.3,194.3 575.4,195.8 575.4,197.3 575.4,198.8 575.5,200.4 575.5,201.9 575.5,203.5 575.5,205.0 575.6,206.3 575.6,207.5 575.6,208.8 575.6,210.0 575.6,211.5 575.6,213.0 575.6,214.6 575.6,216.1 575.6,217.6 575.6,219.1 575.6,220.7 575.6,222.2 575.6,223.7 575.6,225.3 575.6,226.8 575.6,228.4 575.6,230.0 575.6,231.5 575.6,233.1 575.6,234.7 575.6,236.3 575.6,237.7 575.6,239.1 575.6,240.5 575.6,241.9 575.6,243.3 575.6,244.7 575.6,246.2 575.6,247.7 575.6,249.2 575.6,250.7 575.6,251.8 575.6,253.2 575.6,251.6 575.7,250.2 575.7,248.8 575.7,247.4 575.7,246.0 575.7,244.6 575.7,243.2 575.7,241.7 575.7,240.1 575.7,238.6 575.7,237.1 575.7,235.5 575.8,234.1 575.8,232.5 575.8,231.0 575.8,229.5 575.8,227.9 575.9,226.4 575.9,224.9 575.9,223.4 576.0,222.1 576.0,220.6 576.1,219.2 576.1,218.0 576.3,216.1 576.5,215.2 576.8,215.4 577.1,216.9 577.2,217.1 577.4,218.4 577.6,219.6 577.8,221.2 578.0,221.6 578.1,222.7 578.3,223.9 578.5,225.1 578.7,226.0 579.0,227.3 579.2,227.9 579.5,230.1 579.7,230.7 580.0,232.0 580.2,234.0 580.5,234.4 580.7,235.5 580.9,236.9 581.2,239.0 581.4,240.0 581.6,241.3 581.8,242.9 582.0,244.3 582.1,245.7 582.2,246.8 582.3,248.0 582.5,249.2 582.6,250.2 582.7,251.4 582.8,253.0 583.0,254.2 583.1,255.5 583.2,256.8 583.3,258.1 583.4,259.1 583.5,260.5 583.7,261.7 583.8,262.8 583.9,264.4 584.1,265.8 584.2,267.5 584.4,269.1 584.6,270.2 584.7,272.0 584.9,273.2 585.0,274.7 585.2,276.3 585.3,277.4 585.5,278.8 585.7,280.3 585.8,281.9 586.0,283.2 586.1,283.9 586.3,285.8 586.5,286.5 586.6,287.8 586.8,288.4 587.0,289.6 587.3,291.1 587.5,290.8 587.6,292.4 587.8,292.1 588.0,292.9 588.1,293.1 588.3,292.3 588.6,293.6 589.0,293.1 589.3,291.2 589.7,289.1 590.0,288.4 590.3,286.9 590.5,286.0 590.7,284.6 590.9,283.7 591.1,282.0 591.3,280.4 591.4,278.8 591.5,277.6 591.6,276.6 591.7,275.6 591.8,274.6 591.9,273.4 592.0,272.2 592.1,271.2 592.2,270.0 592.3,268.9 592.4,267.6 592.5,266.4 592.6,265.1 592.8,263.6 592.9,262.2 593.0,260.9 593.1,259.4 593.2,258.3 593.3,256.5 593.4,255.0 593.5,253.4 593.6,252.2 593.7,250.9 593.8,249.4 593.9,248.1 594.0,246.6 594.1,245.3 594.2,244.0 594.3,242.3 594.5,240.6 594.6,239.2 594.8,237.6 594.9,236.5 595.0,235.0 595.2,233.5 595.3,232.0 595.5,230.6 595.6,228.8 595.7,228.0 595.8,226.8 595.9,225.4 596.0,224.1 596.1,222.8 596.2,221.5 596.3,219.9 596.5,218.4 596.6,217.2 596.7,215.5 596.8,214.0 596.9,212.8 597.0,211.3 597.1,209.9 597.2,208.5 597.3,207.5 597.4,205.9 597.5,204.8 597.6,203.2 597.7,202.0 597.8,200.8 597.9,199.3 598.0,198.1 598.1,196.8 598.2,195.6 598.3,194.1 598.4,192.7 598.5,191.4 598.7,189.9 598.8,188.5 598.9,187.0 599.0,185.6 599.1,184.4 599.3,183.2 599.4,181.9 599.5,180.8 599.6,179.3 599.7,178.1 599.9,176.7 600.0,175.6 600.1,174.7 600.2,173.3 600.3,172.2 600.5,170.9 600.6,169.8 600.7,168.3 600.9,167.4 601.0,166.2 601.1,165.1 601.2,163.9 601.4,162.4 601.5,161.0 601.7,159.9 601.8,159.0 601.9,157.4 602.1,156.1 602.2,154.9 602.4,153.6 602.6,152.8 602.7,151.3 602.9,150.1 603.0,149.2 603.2,148.0 603.4,146.7 603.5,145.2 603.7,143.7 603.9,142.9 604.0,142.0 604.2,140.3 604.4,139.1 604.5,137.3 604.7,137.1 604.9,135.5 605.0,133.9 605.2,133.1 605.4,131.7 605.5,130.8 605.7,129.8 605.9,128.0 606.0,126.9 606.2,125.5 606.4,124.1 606.5,123.0 606.7,121.8 606.9,120.2 607.1,118.7 607.2,117.5 607.4,116.1 607.6,114.9 607.8,113.2 607.9,112.1 608.1,111.1 608.3,109.5 608.4,108.4 608.6,106.7 608.8,105.2 609.1,103.5 609.2,103.1 609.4,101.5 609.6,100.3 609.8,99.0 610.0,97.5 610.2,96.6 610.3,95.9 610.5,94.5 610.8,93.5 611.1,92.7 611.4,90.4 611.7,89.7 611.9,88.9 612.2,87.8 612.4,86.6 612.7,85.2 613.0,84.5 613.3,82.2 613.6,81.9 613.9,80.0 614.2,79.1 614.6,78.2 614.9,77.6 615.2,75.6 615.5,74.3 615.8,74.2 616.2,72.5 616.5,71.3 616.9,70.2 617.2,69.1 617.5,67.6 617.9,65.5 618.3,65.1 618.7,64.1 619.1,62.5 619.6,61.5 620.1,61.7 620.7,60.7 621.7,58.7 622.8,59.8 623.9,58.8 625.1,56.7 626.3,57.5 627.4,55.9 628.6,55.5 629.7,55.6 630.8,53.2 631.9,52.1 632.5,52.8 633.0,51.1 633.5,51.0 634.0,50.4 634.6,49.6 635.1,49.1 635.7,47.5 636.2,46.3 636.7,45.3 637.2,45.1 637.7,44.0 638.2,42.4 638.7,42.6 639.1,41.7 639.9,39.2 640.5,42.3 640.8,43.4 641.0,43.7 641.2,44.6 641.4,46.6 641.6,47.8 641.8,49.0 642.0,49.5 642.2,51.0 642.7,51.7 643.1,51.5 643.6,51.1 644.0,51.2 644.5,49.5 645.0,49.1 645.4,47.0 645.9,46.4 646.4,45.4 646.9,43.5 647.4,42.5 647.8,41.5 648.2,41.4 648.6,41.9 648.8,43.2 649.0,43.7 649.2,45.3 649.3,46.9 649.5,47.9 649.6,49.5 649.8,50.3 649.9,51.1 650.2,52.1 650.5,51.1 650.6,49.2 650.6,47.6 650.7,46.3 650.7,44.9 650.8,43.6 650.8,42.0 650.9,40.8 651.0,39.4 651.1,38.2 651.3,37.0 651.4,36.2 651.8,35.2 652.2,34.4 652.8,36.8 653.4,35.0 654.1,34.6 654.9,35.5 655.6,36.1 656.3,34.5 657.0,38.0 657.6,37.8 658.3,35.0 658.9,35.3 659.6,33.1 660.4,32.4 661.4,30.5 662.5,31.5 663.7,32.3 664.9,31.7 666.0,30.2 667.2,28.7 668.3,29.5 669.4,29.3 670.6,26.0 671.7,26.3 672.8,25.3 674.0,24.1 675.1,23.0 676.2,23.1 677.2,24.3 678.4,24.5 679.5,24.3 680.8,26.1 681.8,23.4 682.8,22.9 683.9,23.5 685.0,25.8 686.1,25.1 687.3,24.2 688.4,27.8 689.6,28.9 690.8,27.9 692.0,29.0 693.1,26.8 694.3,27.2 695.4,29.6 696.6,30.0 697.7,29.8 698.8,30.0 700.0,29.9 701.1,32.9 702.2,30.2 703.4,31.5 704.5,33.4 705.6,31.0 706.8,32.9 707.9,32.9 709.1,34.2 710.2,30.7 711.4,33.9 712.6,33.7 713.8,36.5 715.0,35.5 716.2,35.3 717.3,37.6 718.4,37.5 719.5,38.4 720.5,38.7 721.5,38.4 722.8,36.1 724.0,37.0 725.1,36.5 726.1,36.0 727.2,35.3 728.3,34.5 729.4,33.3 730.5,33.0 731.6,31.4 732.7,30.7 733.9,31.7 735.1,29.9 735.9,30.1 736.8,28.9 737.7,27.2 738.7,28.5 739.7,30.9 740.6,28.3 741.6,27.3 742.6,28.7 743.5,26.9 744.4,26.4 745.2,25.0 746.0,24.5 747.2,25.6 748.3,24.2 749.2,22.8 750.1,22.0 751.0,19.9 752.0,19.0" fill="none" stroke="#ff0000" stroke-width="3.0" stroke-linejoin="round" stroke-linecap="round"/>
<path d="M538.0,75.4 538.2,75.1 538.4,74.8 538.6,75.6 538.8,75.1 539.0,73.6 539.3,73.6 539.9,72.6 540.3,71.3 540.7,71.3 541.1,69.6 541.5,68.9 541.9,68.0 542.3,66.2 542.8,65.3 543.3,64.9 543.8,65.5 544.3,64.3 544.8,63.6 545.3,62.1 545.8,61.6 546.3,61.4 546.9,61.0 547.4,58.9 548.6,58.5 549.8,57.4 551.0,58.5 552.3,55.8 553.7,54.7 555.1,55.9 556.5,53.8 558.0,55.3 559.3,52.3 560.5,56.6 561.6,54.4 562.7,55.2 563.8,55.4 564.8,56.4 565.9,57.2 567.1,57.8 567.7,59.8 568.4,57.1 569.0,58.6 569.6,59.9 570.1,60.7 570.7,62.6 571.2,62.4 571.7,62.6 572.6,63.4 573.2,66.2 573.7,66.8 574.1,68.6 574.5,68.7 574.7,71.1 574.9,71.4 575.0,72.0 575.2,73.4 575.3,74.6 575.4,75.7 575.5,76.8 575.6,78.3 575.7,79.5 575.7,81.0 575.7,82.4 575.8,84.0 575.8,85.5 575.8,86.6 575.9,87.7 575.9,88.8 575.9,90.2 576.0,91.7 576.0,93.3 576.0,94.6 576.0,96.0 576.0,97.6 576.1,99.2 576.1,100.8 576.1,102.3 576.1,103.9 576.1,105.4 576.1,106.9 576.1,108.3 576.1,109.7 576.1,111.2 576.1,112.6 576.1,114.0 576.1,115.4 576.1,116.9 576.1,118.5 576.1,120.0 576.1,121.5 576.1,123.0 576.1,124.5 576.2,125.8 576.2,127.1 576.2,128.4 576.2,129.7 576.2,131.0 576.2,132.4 576.3,133.2 576.4,132.3 576.5,131.3 576.5,130.2 576.6,129.2 576.6,127.7 576.7,126.1 576.7,124.6 576.8,123.3 576.8,122.0 576.8,120.8 576.9,119.4 576.9,118.2 577.0,116.9 577.0,115.7 577.0,114.4 577.1,112.9 577.1,111.4 577.2,110.1 577.2,108.8 577.3,107.6 577.3,106.4 577.3,105.2 577.4,104.0 577.4,102.8 577.4,101.5 577.5,100.4 577.5,99.1 577.5,98.0 577.6,96.8 577.6,95.7 577.7,94.3 577.8,92.7 577.9,91.2 578.0,90.0 578.1,88.7 578.3,87.1 578.4,85.9 578.6,85.2 578.8,84.8 579.2,82.1 579.5,81.9 579.9,85.1 580.4,83.6 580.8,84.7 581.3,84.0 581.7,86.2 582.1,86.4 582.5,87.7 582.9,87.6 583.3,88.9 583.6,90.0 584.0,91.3 584.3,92.7 584.6,94.6 585.0,95.7 585.3,97.4 585.6,98.7 585.9,100.4 586.2,101.8 586.4,103.1 586.7,104.4 586.9,105.5 587.2,107.1 587.4,108.2 587.6,109.5 587.9,110.8 588.1,112.5 588.3,114.0 588.5,115.8 588.8,116.8 589.0,118.7 589.2,119.5 589.4,121.2 589.6,123.2 589.8,124.0 590.0,125.3 590.2,126.6 590.4,128.5 590.5,129.6 590.7,130.6 590.9,131.9 591.1,132.8 591.2,134.5 591.4,136.1 591.5,136.7 591.7,138.6 591.8,139.8 592.0,141.3 592.1,142.2 592.3,143.6 592.4,145.2 592.6,146.4 592.7,147.8 592.9,148.9 593.1,150.5 593.2,152.0 593.4,153.7 593.5,154.9 593.6,156.1 593.8,157.0 593.9,158.3 594.0,159.8 594.1,161.2 594.2,162.1 594.4,163.4 594.5,164.7 594.6,166.1 594.7,167.5 594.8,168.5 595.0,169.7 595.1,170.8 595.2,172.3 595.4,173.4 595.5,174.7 595.6,175.8 595.8,177.3 595.9,178.3 596.1,179.3 596.2,180.8 596.4,181.8 596.5,183.4 596.7,184.8 596.9,185.8 597.0,186.9 597.2,188.0 597.4,189.3 597.5,191.0 597.7,192.0 597.9,192.8 598.1,194.0 598.2,195.5 598.4,196.7 598.6,197.9 598.8,199.2 598.9,200.1 599.1,201.4 599.2,203.0 599.4,204.1 599.5,205.3 599.7,206.5 599.8,207.9 599.9,209.2 600.0,210.4 600.1,211.7 600.3,213.3 600.4,214.4 600.4,216.2 600.5,217.2 600.6,218.7 600.7,220.2 600.8,221.7 600.9,223.0 600.9,224.1 601.0,225.7 601.1,226.9 601.2,228.4 601.2,229.9 601.3,231.2 601.4,232.5 601.5,233.8 601.6,235.1 601.8,236.5 601.9,238.1 602.1,239.9 602.3,241.3 602.5,243.0 602.7,244.3 602.9,245.8 603.2,247.4 603.4,248.8 603.7,250.3 603.9,251.4 604.2,252.2 604.4,253.3 604.7,254.1 605.0,255.5 605.3,256.0 605.7,256.6 606.0,258.4 606.3,259.7 606.7,257.7 607.0,260.7 607.4,259.2 607.7,257.8 608.0,257.0 608.4,256.0 608.7,255.5 609.0,253.5 609.3,252.7 609.5,250.9 609.8,250.0 610.1,248.6 610.3,246.7 610.6,245.2 610.8,243.9 611.1,241.9 611.2,241.1 611.4,239.8 611.5,239.0 611.6,238.0 611.8,236.9 611.9,235.8 612.0,234.3 612.1,233.0 612.3,231.6 612.3,230.3 612.4,228.9 612.5,227.5 612.6,226.1 612.6,224.6 612.7,223.1 612.8,221.8 612.8,220.2 612.9,218.7 613.0,217.2 613.1,215.8 613.1,214.3 613.3,212.8 613.4,211.5 613.5,209.6 613.6,208.8 613.8,207.3 613.9,205.9 614.0,204.3 614.2,203.4 614.3,202.2 614.5,200.6 614.7,199.2 614.8,197.9 615.0,196.9 615.2,195.5 615.4,194.5 615.5,192.8 615.7,191.7 615.9,190.0 616.1,188.8 616.3,187.8 616.4,186.2 616.6,185.0 616.8,183.3 617.0,182.1 617.2,180.9 617.3,179.5 617.5,178.3 617.7,177.4 617.8,175.9 618.0,174.7 618.1,173.7 618.3,172.2 618.5,171.0 618.6,169.7 618.8,168.7 619.0,167.5 619.1,166.5 619.3,165.3 619.4,163.3 619.6,162.6 619.8,161.6 619.9,160.0 620.1,158.8 620.3,157.3 620.4,156.6 620.6,154.9 620.7,153.9 620.9,152.6 621.1,151.5 621.2,150.1 621.4,148.9 621.6,148.0 621.7,146.5 621.9,145.4 622.0,143.9 622.2,143.0 622.4,141.6 622.5,140.5 622.7,139.1 622.8,137.4 623.0,136.0 623.1,135.4 623.3,133.8 623.5,132.6 623.6,131.3 623.8,130.1 623.9,129.0 624.1,127.9 624.3,126.5 624.4,124.9 624.6,124.3 624.8,122.7 625.1,121.0 625.3,119.3 625.5,118.1 625.7,117.6 625.9,116.0 626.1,115.4 626.2,113.9 626.4,113.1 626.6,111.6 626.8,110.5 627.0,109.7 627.3,107.7 627.6,106.2 628.0,105.2 628.3,104.1 628.6,102.6 628.8,100.9 629.1,100.0 629.4,99.3 629.7,98.1 630.1,97.9 630.4,96.6 630.8,94.6 631.1,94.4 631.5,92.0 631.9,90.8 632.3,90.7 632.7,88.5 633.1,87.6 633.5,87.4 633.9,85.4 634.2,85.1 634.6,83.8 635.2,81.8 635.7,80.8 636.0,80.0 636.4,78.8 636.7,77.1 637.0,76.9 637.3,74.6 637.6,74.5 637.9,73.8 638.3,73.4 638.7,72.8 639.0,70.4 639.5,70.1 640.0,69.6 640.6,68.7 641.2,68.7 641.9,68.4 642.5,67.9 643.3,66.4 644.0,69.5 644.8,64.5 645.5,65.0 646.2,66.2 647.0,64.9 647.6,64.2 648.2,63.9 648.7,62.0 649.2,61.5 649.7,61.4 650.1,60.8 650.6,58.3 651.0,57.9 651.4,57.4 651.8,57.0 652.2,55.0 652.6,55.5 653.1,53.7 653.6,54.0 654.1,53.0 654.6,53.4 655.2,50.7 655.7,51.5 656.3,50.2 656.9,49.2 657.5,50.1 658.0,47.9 659.2,48.4 660.4,45.7 661.5,44.6 662.6,45.4 663.8,45.9 664.9,43.4 666.0,41.1 667.2,41.6 668.3,40.2 669.4,39.1 670.6,39.3 671.7,39.0 672.9,38.7 674.0,36.0 675.1,38.1 676.2,35.3 677.3,33.2 678.4,33.3 679.6,33.7 680.8,32.0 682.1,32.8 683.4,31.0 684.8,33.4 686.2,32.0 687.5,31.2 688.9,33.2 690.3,30.6 691.6,32.1 693.0,33.5 694.4,33.7 695.7,33.9 697.1,35.5 698.5,34.3 699.8,35.5 701.2,35.0 702.5,36.6 703.8,35.8 705.2,36.3 706.6,38.3 707.9,37.5 709.3,40.2 710.7,40.9 712.0,40.9 713.4,41.5 714.7,41.5 716.1,39.0 717.4,39.8 718.8,42.1 720.1,40.1 721.5,40.7 722.9,41.8 724.2,42.4 725.6,39.3 727.0,41.7 728.4,42.7 729.7,41.7 731.1,42.6 732.4,39.6 733.8,41.0 735.2,41.4 736.5,39.2 737.8,39.0 739.0,38.8 740.2,34.1 741.3,35.9 742.5,38.0 743.6,34.7 744.6,36.0 745.7,35.2 746.7,34.6 747.2,32.9 747.7,32.9 748.5,31.0 749.4,31.0 750.1,28.4 750.5,28.0 750.8,28.5 751.1,29.3 751.4,27.8 751.7,27.3 752.0,26.4" fill="none" stroke="#0000ff" stroke-width="3.0" stroke-linejoin="round" stroke-linecap="round"/>
<path d="M538.0,92.8 538.2,91.2 538.4,91.3 538.6,91.0 538.8,91.8 539.1,90.1 539.3,89.8 539.8,89.9 540.3,89.1 540.8,87.2 541.4,86.8 542.0,86.0 542.6,85.5 543.1,84.1 543.6,85.0 544.1,83.1 544.6,82.7 545.2,81.1 545.7,80.1 546.3,79.3 546.9,77.6 547.5,75.7 548.1,76.0 548.7,74.3 549.3,74.6 549.9,72.2 550.6,71.8 551.2,70.7 551.9,69.2 552.5,68.3 553.2,67.3 553.9,66.5 554.6,65.6 555.3,64.6 556.1,63.6 556.8,60.9 557.6,63.5 558.9,62.0 560.3,59.1 561.7,58.8 563.1,56.5 564.5,54.8 565.9,58.1 567.1,61.6 568.3,59.1 569.5,59.4 570.7,59.5 571.7,60.5 572.6,60.5 573.4,61.4 573.7,62.6 574.0,64.0 574.3,64.8 574.5,65.5 574.7,67.2 574.9,68.2 575.1,69.4 575.3,69.8 575.9,70.5 576.3,70.3 576.7,69.5 577.1,70.2 577.5,69.1 578.0,68.2 578.4,68.7 578.8,68.6 579.2,68.4 579.6,68.3 580.1,69.7 580.5,66.8 580.9,68.7 581.7,67.8 582.6,69.2 583.0,70.5 583.4,70.5 583.9,71.9 584.3,73.3 584.7,73.4 585.1,74.7 585.5,75.9 585.9,77.1 586.4,78.6 586.8,78.8 587.2,81.3 587.7,82.2 588.1,83.4 588.5,83.6 588.9,85.8 589.3,86.7 589.7,88.6 590.1,89.5 590.4,90.7 590.8,91.8 591.1,93.2 591.4,94.6 591.7,94.9 591.9,96.4 592.2,97.6 592.4,98.7 592.6,99.8 592.9,101.1 593.1,102.2 593.4,102.8 593.6,104.9 593.9,105.5 594.2,107.4 594.4,108.5 594.7,108.9 595.0,110.7 595.2,112.3 595.5,113.6 595.8,114.5 596.1,115.5 596.4,117.4 596.7,118.0 596.9,119.3 597.2,121.4 597.5,122.2 597.8,124.0 598.0,125.0 598.3,126.5 598.5,128.3 598.8,129.4 599.1,131.1 599.3,132.5 599.6,134.0 599.7,135.2 599.9,136.3 600.1,137.8 600.3,139.0 600.4,140.5 600.6,141.5 600.7,142.6 600.9,144.0 601.1,145.4 601.2,146.1 601.4,147.9 601.5,148.7 601.7,150.0 601.8,151.8 602.0,152.8 602.1,153.8 602.3,155.2 602.4,156.6 602.6,157.7 602.7,159.0 602.8,160.1 603.0,161.3 603.1,162.2 603.2,163.5 603.4,164.9 603.5,165.8 603.6,167.4 603.8,168.5 603.9,169.9 604.0,171.0 604.1,172.0 604.2,172.9 604.3,174.3 604.5,175.7 604.6,177.2 604.7,178.1 604.8,179.5 604.9,180.6 605.1,181.5 605.2,183.2 605.3,184.3 605.4,185.4 605.6,187.0 605.7,188.2 605.9,190.2 606.0,190.9 606.2,192.6 606.3,194.3 606.5,195.8 606.7,197.5 606.8,199.2 607.0,200.7 607.1,201.9 607.3,203.1 607.4,204.5 607.5,205.9 607.7,207.1 607.8,208.0 608.0,209.9 608.1,210.9 608.2,212.4 608.4,213.4 608.5,215.2 608.7,216.6 608.8,218.4 609.0,219.9 609.2,221.1 609.3,222.1 609.5,224.1 609.6,225.3 609.7,227.1 609.9,228.5 610.0,229.8 610.1,231.2 610.3,232.6 610.4,234.3 610.5,235.6 610.7,236.9 610.8,238.3 610.9,239.7 611.0,240.9 611.1,241.9 611.3,243.7 611.4,244.6 611.5,245.9 611.6,247.1 611.8,248.2 611.9,249.3 612.1,250.8 612.2,251.9 612.4,253.4 612.5,254.6 612.7,256.2 612.8,256.9 613.0,258.1 613.2,259.1 613.3,260.6 613.5,261.4 613.7,262.4 613.9,263.8 614.2,264.6 614.5,265.9 614.8,266.6 615.1,267.3 615.5,268.5 615.8,269.3 616.1,268.1 616.5,267.7 616.8,267.4 617.2,265.7 617.5,264.4 617.8,263.1 618.0,261.6 618.3,260.8 618.4,259.3 618.6,257.7 618.7,256.6 618.8,254.9 618.9,254.2 619.0,252.9 619.1,251.9 619.2,250.4 619.3,249.4 619.4,248.4 619.5,247.0 619.6,245.9 619.7,244.7 619.8,243.7 619.9,242.0 620.1,240.4 620.2,239.1 620.3,237.7 620.5,236.0 620.6,234.6 620.7,233.1 620.8,231.4 621.0,229.9 621.1,228.3 621.3,227.0 621.4,225.6 621.5,224.0 621.7,222.8 621.8,221.8 622.0,220.3 622.1,219.3 622.3,218.0 622.4,216.6 622.6,215.6 622.8,214.2 622.9,212.7 623.1,211.3 623.3,209.9 623.5,208.4 623.7,206.8 623.9,205.3 624.0,203.8 624.2,202.9 624.4,201.4 624.5,200.1 624.7,199.0 624.9,197.6 625.0,195.7 625.2,194.7 625.4,193.5 625.6,192.1 625.7,190.3 625.9,189.1 626.1,187.7 626.3,186.6 626.4,185.3 626.6,183.8 626.8,182.4 627.0,180.9 627.1,179.9 627.3,178.0 627.5,177.3 627.6,176.1 627.8,174.8 627.9,173.5 628.1,172.3 628.3,171.1 628.4,169.6 628.6,168.7 628.8,167.3 628.9,166.1 629.1,164.3 629.2,163.4 629.4,162.4 629.6,161.1 629.7,160.2 629.9,158.5 630.1,157.8 630.2,156.5 630.4,155.2 630.5,153.8 630.7,152.4 630.9,151.2 631.0,150.1 631.2,149.0 631.4,147.9 631.5,146.7 631.7,145.5 631.8,144.2 632.0,142.7 632.1,141.4 632.3,140.4 632.4,138.8 632.6,137.9 632.7,136.5 632.9,134.9 633.0,134.0 633.2,132.7 633.3,131.3 633.5,129.7 633.6,129.0 633.8,127.8 634.0,126.7 634.1,125.4 634.3,124.0 634.6,122.2 634.8,121.1 635.1,119.9 635.3,118.4 635.6,116.9 635.8,115.6 636.1,114.1 636.3,113.9 636.6,112.9 636.9,110.9 637.1,110.4 637.4,110.0 637.7,107.7 638.0,107.9 638.3,106.8 638.5,105.6 638.8,104.4 639.1,103.4 639.4,102.4 639.7,101.7 640.0,99.6 640.3,98.3 640.6,97.2 640.9,97.0 641.1,96.3 641.4,94.6 641.7,94.0 642.0,92.9 642.3,92.2 642.6,91.0 643.1,89.4 643.5,87.5 644.0,86.1 644.4,85.1 644.9,83.4 645.4,82.5 645.8,80.4 646.3,79.9 646.7,78.2 647.1,77.3 647.6,75.1 648.0,75.1 648.5,73.2 648.9,73.1 649.4,71.9 649.9,70.0 650.4,70.2 650.9,69.2 651.3,68.7 651.8,67.6 652.2,65.9 652.6,66.4 653.1,63.9 653.5,63.9 654.5,63.1 655.4,60.5 655.8,61.8 656.3,60.7 656.7,59.5 657.2,57.5 657.6,57.7 658.1,58.0 658.5,57.2 659.0,55.5 659.4,54.5 659.9,54.7 660.3,53.3 660.8,52.2 661.2,53.7 661.7,52.1 662.6,51.1 663.4,49.5 664.3,49.2 665.2,48.1 666.2,46.2 667.2,44.9 668.4,43.9 669.1,44.7 669.7,43.4 670.4,41.6 671.1,43.8 671.8,42.0 672.5,42.0 673.2,42.6 673.9,41.2 674.6,41.2 675.3,39.8 676.6,39.7 678.0,39.3 679.4,38.0 680.7,36.8 682.1,36.1 683.5,35.5 684.8,35.7 686.2,34.3 687.6,35.4 689.0,33.7 690.3,36.0 691.6,34.7 692.8,34.1 694.0,35.9 695.1,35.1 696.2,39.9 697.3,37.1 698.4,38.4 699.5,40.7 700.7,39.3 701.8,39.6 702.9,40.2 704.1,43.1 705.2,41.4 706.3,45.0 707.4,44.6 708.5,44.6 709.6,46.6 710.8,46.1 712.0,46.3 712.7,45.5 713.5,45.6 714.3,47.9 715.1,45.5 715.9,46.3 716.7,46.6 717.6,48.7 718.4,47.1 719.2,48.8 720.0,53.1 721.5,49.3 722.7,51.5 723.9,48.9 725.0,47.0 726.1,47.1 727.2,46.4 728.3,47.1 729.4,46.8 730.6,45.7 731.7,44.5 732.8,43.5 733.9,43.3 735.1,42.2 736.4,41.6 737.8,44.7 739.2,42.2 740.6,39.3 742.0,39.8 743.3,39.4 744.5,38.2 745.8,36.8 747.0,36.9 748.2,35.9 749.2,35.5 750.1,35.4 750.5,33.5 750.8,34.0 751.1,33.1 751.4,32.5 751.7,32.6 752.0,33.1" fill="none" stroke="#ff00ff" stroke-width="3.0" stroke-linejoin="round" stroke-linecap="round"/>
<path d="M538.0,72.6 538.2,72.8 538.4,73.4 538.6,74.2 538.8,75.4 539.0,75.8 539.3,74.4 539.9,76.2 540.7,77.8 541.6,78.2 542.6,79.5 543.5,80.2 544.3,82.2 544.8,82.7 545.2,83.1 545.6,84.7 546.1,85.8 546.5,86.3 547.0,86.3 547.4,87.9 547.8,89.0 548.2,90.1 548.6,91.0 548.9,91.7 549.3,92.0 549.6,93.1 549.9,94.0 550.2,94.6 550.5,95.5 550.8,95.7 551.1,97.1 551.3,97.6 551.6,98.5 551.8,100.1 552.1,100.4 552.3,101.3 552.6,101.9 552.9,102.7 553.2,103.9 553.5,105.3 553.8,106.5 554.1,107.1 554.3,108.7 554.6,110.1 554.9,111.1 555.1,112.6 555.4,114.1 555.7,115.8 555.9,117.1 556.1,118.7 556.3,119.4 556.4,121.3 556.6,122.4 556.8,124.1 557.0,125.9 557.1,127.3 557.3,128.7 557.4,130.2 557.5,131.3 557.7,132.9 557.8,134.1 557.9,135.5 558.0,136.7 558.1,138.2 558.2,139.6 558.4,141.0 558.5,142.4 558.6,143.5 558.7,145.2 558.8,146.4 558.9,147.8 559.0,149.0 559.2,150.6 559.3,152.1 559.5,153.9 559.6,155.2 559.7,156.4 559.8,157.7 560.0,158.7 560.1,159.9 560.2,161.6 560.4,163.2 560.5,164.8 560.7,166.2 560.8,167.5 561.0,169.0 561.1,170.8 561.3,171.7 561.4,173.6 561.6,175.1 561.7,176.7 561.9,178.2 562.0,179.6 562.2,181.3 562.3,182.2 562.5,184.0 562.6,185.7 562.8,186.9 562.9,188.7 563.1,190.6 563.2,191.8 563.4,193.7 563.6,195.2 563.7,196.9 563.8,198.0 564.0,199.2 564.1,200.4 564.2,201.4 564.3,203.0 564.4,203.9 564.5,205.1 564.6,206.5 564.7,207.5 564.8,209.2 564.9,210.5 565.0,211.6 565.1,212.9 565.2,214.6 565.3,216.1 565.4,217.5 565.4,219.2 565.5,220.8 565.6,222.3 565.7,224.0 565.7,225.3 565.8,226.5 565.8,227.9 565.9,229.2 565.9,230.6 566.0,231.8 566.0,233.1 566.0,234.4 566.1,235.7 566.1,237.0 566.2,238.6 566.3,240.1 566.3,241.8 566.4,243.3 566.5,244.9 566.5,246.4 566.6,247.9 566.7,249.5 566.8,250.8 566.9,252.1 566.9,253.4 567.0,254.7 567.1,256.0 567.2,257.2 567.2,258.5 567.3,259.8 567.4,261.0 567.5,262.3 567.6,263.5 567.7,264.8 567.7,265.8 567.8,267.2 567.9,268.4 568.0,269.5 568.1,271.2 568.2,272.8 568.4,274.3 568.5,276.0 568.6,277.5 568.7,279.0 568.8,280.5 568.9,281.9 569.0,283.5 569.1,284.5 569.2,286.1 569.3,287.5 569.4,288.9 569.5,290.1 569.6,291.7 569.7,293.0 569.8,294.4 569.9,295.5 570.0,297.1 570.1,298.1 570.3,299.3 570.4,300.5 570.5,301.3 570.6,302.4 570.7,303.7 570.8,304.5 570.9,305.5 571.0,306.1 571.1,307.2 571.2,308.0 571.5,310.3 571.7,310.9 572.0,313.3 572.2,310.9 572.5,310.5 572.8,308.8 573.1,307.6 573.3,306.8 573.6,306.5 573.9,305.4 574.2,307.4 574.5,308.1 574.7,309.4 575.0,310.9 575.2,312.3 575.3,313.9 575.4,315.5 575.5,317.0 575.5,318.2 575.5,319.5 575.6,320.8 575.6,322.0 575.6,323.3 575.6,324.8 575.6,326.2 575.6,327.6 575.6,329.0 575.6,330.5 575.5,331.8 575.5,333.1 575.5,334.4 575.5,335.7 575.5,337.1 575.5,338.3 575.5,339.5 575.5,340.7 575.5,341.9 575.5,343.0 575.6,347.4 575.8,343.2 576.0,341.4 576.2,340.0 576.3,338.8 576.4,337.4 576.5,336.1 576.6,334.7 576.8,333.2 576.9,331.4 577.0,330.3 577.1,329.0 577.1,328.0 577.2,326.8 577.3,325.3 577.4,323.7 577.5,322.3 577.6,321.0 577.6,319.6 577.7,318.4 577.7,316.9 577.8,315.8 577.8,314.3 577.8,312.9 577.9,311.5 577.9,310.0 578.0,308.6 578.0,307.1 578.0,305.5 578.0,304.0 578.1,302.5 578.1,301.1 578.1,299.5 578.1,297.9 578.1,296.4 578.2,294.9 578.2,293.3 578.2,291.9 578.2,290.4 578.3,288.8 578.3,287.4 578.3,285.8 578.3,284.5 578.4,283.2 578.4,281.8 578.5,280.4 578.5,279.0 578.6,277.7 578.6,276.5 578.7,275.0 578.7,273.7 578.8,272.5 578.8,271.3 578.9,270.0 578.9,268.7 579.0,267.5 579.0,266.4 579.1,265.1 579.2,263.9 579.2,262.3 579.3,260.8 579.4,259.2 579.5,257.6 579.6,256.0 579.7,254.5 579.7,253.0 579.8,251.9 579.8,250.7 579.9,249.5 580.0,248.3 580.0,247.1 580.1,245.8 580.2,244.7 580.2,243.5 580.3,242.1 580.3,240.9 580.4,239.7 580.5,238.4 580.5,237.1 580.6,235.9 580.7,234.7 580.7,233.4 580.8,232.3 580.9,231.0 580.9,229.8 581.0,228.4 581.1,227.2 581.1,225.8 581.2,224.8 581.2,223.5 581.3,222.5 581.3,221.3 581.4,220.0 581.5,218.6 581.5,217.0 581.6,215.4 581.6,214.1 581.6,212.6 581.7,211.1 581.7,209.6 581.7,208.2 581.8,206.7 581.8,205.3 581.9,203.6 581.9,202.2 582.0,200.9 582.0,199.4 582.1,197.9 582.1,196.4 582.2,194.8 582.3,193.6 582.4,192.0 582.5,190.3 582.6,188.7 582.8,187.7 582.9,186.1 583.0,184.9 583.1,183.8 583.2,182.5 583.3,181.6 583.4,180.3 583.5,179.1 583.7,177.8 583.8,176.5 583.9,175.5 584.0,173.9 584.2,172.7 584.3,171.6 584.4,170.3 584.5,169.3 584.7,167.9 584.8,166.9 584.9,165.6 585.0,164.2 585.1,162.8 585.2,162.1 585.3,160.6 585.5,159.3 585.6,157.8 585.7,156.4 585.8,155.4 585.9,153.7 586.1,152.4 586.2,151.2 586.3,149.7 586.4,148.4 586.5,147.1 586.6,145.8 586.7,144.7 586.9,143.2 587.0,142.1 587.1,140.6 587.2,139.4 587.3,138.1 587.4,136.4 587.6,135.1 587.7,133.4 587.8,131.9 588.0,130.6 588.1,129.2 588.2,127.6 588.3,126.4 588.4,125.2 588.5,123.9 588.6,122.6 588.7,121.1 588.9,120.0 589.0,118.3 589.2,116.9 589.3,116.1 589.5,114.9 589.6,113.9 589.8,112.5 590.0,111.5 590.1,110.6 590.3,109.5 590.5,108.4 590.6,106.7 590.8,106.6 591.0,105.1 591.2,103.6 591.4,103.0 591.6,101.5 591.8,100.3 592.1,99.8 592.3,97.9 592.5,96.8 592.7,95.7 593.0,94.7 593.2,94.8 593.5,92.5 593.8,91.2 594.0,90.4 594.3,89.5 594.6,88.5 594.9,86.7 595.2,86.5 595.4,84.8 595.7,83.3 596.0,82.3 596.3,81.6 596.6,80.3 596.9,79.1 597.2,78.2 597.5,78.0 597.9,76.2 598.3,74.0 598.7,72.5 599.1,71.6 599.5,69.5 599.9,67.7 600.3,66.6 600.7,65.1 601.1,63.7 601.6,62.9 602.0,61.4 602.5,60.3 602.9,59.7 603.3,58.4 603.6,57.0 604.0,56.4 604.4,56.5 604.8,54.6 605.2,53.7 605.6,53.8 606.1,52.2 606.5,51.4 607.0,51.5 607.5,50.5 608.0,49.5 608.5,49.0 609.0,49.5 609.5,48.3 610.6,46.3 611.7,45.4 612.9,46.3 614.1,43.7 615.4,43.6 616.8,43.0 618.2,41.4 619.6,41.8 621.1,40.0 622.4,40.3 623.5,41.4 624.6,39.3 625.7,40.7 626.8,38.6 627.9,38.5 629.1,37.5 629.9,35.9 630.7,37.9 631.5,37.9 632.3,36.2 633.2,35.5 634.1,34.8 634.9,35.4 635.8,35.8 636.6,35.5 637.5,34.4 639.0,34.0 640.2,34.4 641.3,34.6 642.3,34.4 643.3,38.3 644.4,35.9 645.4,35.8 646.4,39.5 647.3,37.8 648.3,37.6 649.3,35.9 650.1,36.2 650.9,36.5 651.5,37.2 651.9,34.8 652.2,33.8 652.6,33.4 653.0,32.3 653.6,30.9 654.5,29.0 655.6,31.7 656.8,28.7 658.0,32.6 659.2,29.8 660.4,29.7 661.5,28.4 662.7,28.1 663.8,28.1 664.9,28.7 666.1,27.3 667.2,27.3 668.3,26.5 669.5,28.0 670.6,27.7 671.7,27.8 672.9,25.4 674.0,25.7 675.1,24.8 676.3,27.3 677.4,22.4 678.5,27.8 679.7,25.0 680.8,24.3 681.9,25.8 683.1,25.4 684.2,25.6 685.3,26.9 686.5,27.5 687.6,26.0 688.7,29.5 689.8,24.7 691.0,28.2 692.1,27.1 693.2,25.0 694.3,28.1 695.4,28.9 696.6,25.3 697.7,28.5 698.8,28.0 700.0,28.8 701.1,26.7 702.2,30.0 703.4,31.1 704.5,30.4 705.6,29.6 706.8,30.3 707.9,31.4 709.0,30.6 710.2,28.8 711.3,28.9 712.4,28.3 713.6,30.3 714.7,33.3 715.8,32.4 717.0,30.0 718.1,30.2 719.2,32.1 720.4,31.9 721.5,32.9 722.6,31.7 723.8,30.4 724.9,32.1 726.0,34.0 727.2,31.5 728.3,34.0 729.5,29.5 730.6,30.0 731.8,30.4 732.9,29.6 734.0,30.4 735.1,29.2 736.1,29.1 737.0,29.3 737.9,25.9 738.8,26.3 739.7,28.9 740.5,25.7 741.3,25.6 742.0,26.8 742.6,27.6 743.3,29.2 743.9,30.3 744.6,30.8 745.3,30.7 746.0,29.1 746.7,28.7 747.4,27.7 748.1,25.0 748.7,24.2 749.3,24.4 749.8,22.4 750.4,23.1 750.9,21.2 751.5,20.4 752.0,20.1" fill="none" stroke="#000000" stroke-width="3.0" stroke-linejoin="round" stroke-linecap="round"/>
</g>
<g clip-path="url(#cp4)">
<path d="M752.0,100.9 752.9,96.9 753.8,98.6 754.8,98.1 755.7,100.1 756.5,99.4 757.3,99.5 757.8,100.1 758.3,99.1 758.8,99.0 759.2,99.3 759.6,98.5 760.0,98.4 760.6,98.8 761.1,100.6 761.5,102.0 761.6,102.8 761.8,103.5 762.0,104.4 762.2,105.2 762.3,106.8 762.5,107.3 762.7,108.6 762.9,108.4 763.1,109.3 763.2,110.8 763.4,111.6 763.6,112.4 763.7,113.4 763.9,114.5 764.0,115.0 764.2,117.2 764.3,117.8 764.5,119.0 764.7,120.6 764.9,121.9 765.1,123.4 765.2,124.7 765.4,125.9 765.5,127.1 765.7,128.5 765.8,129.8 766.0,131.0 766.1,132.4 766.3,133.5 766.4,135.2 766.6,136.2 766.7,137.6 766.9,139.1 767.0,140.7 767.2,141.9 767.4,143.4 767.5,145.1 767.7,146.5 767.8,148.0 768.0,149.2 768.1,150.5 768.3,152.0 768.4,153.2 768.6,154.9 768.7,156.3 768.9,158.0 769.1,159.5 769.2,160.7 769.4,162.4 769.6,164.0 769.7,165.5 769.9,166.9 770.0,168.7 770.2,169.8 770.3,171.7 770.5,173.0 770.7,174.5 770.8,176.2 771.0,177.9 771.1,179.0 771.3,180.7 771.4,182.3 771.5,183.7 771.7,185.2 771.8,186.7 771.9,188.1 772.0,189.6 772.2,190.3 772.3,192.1 772.4,193.5 772.5,194.5 772.6,196.1 772.7,197.4 772.8,198.6 772.9,200.0 773.0,201.1 773.1,202.4 773.2,203.8 773.3,205.0 773.4,206.5 773.5,207.6 773.6,209.1 773.7,210.4 773.8,211.7 773.9,212.9 774.0,214.2 774.0,215.4 774.1,216.7 774.2,218.2 774.3,219.5 774.3,220.7 774.4,222.0 774.5,223.6 774.5,224.8 774.6,226.2 774.6,227.6 774.7,228.8 774.7,230.2 774.8,231.5 774.8,232.9 774.9,234.3 774.9,235.6 774.9,236.9 775.0,238.3 775.0,239.5 775.1,241.0 775.1,242.2 775.1,243.5 775.2,244.9 775.2,246.1 775.3,247.4 775.3,248.7 775.4,250.1 775.5,251.5 775.5,253.0 775.6,254.5 775.7,256.0 775.8,257.3 775.8,258.8 775.9,260.2 776.0,261.7 776.1,263.1 776.2,264.5 776.2,265.8 776.3,267.5 776.4,268.7 776.5,270.2 776.6,271.7 776.6,273.3 776.7,274.8 776.8,276.4 776.9,277.7 776.9,279.1 777.0,280.5 777.1,282.1 777.2,283.4 777.3,284.9 777.3,286.3 777.4,287.8 777.5,289.4 777.6,291.0 777.7,292.6 777.7,294.1 777.8,295.5 777.9,297.1 778.0,298.8 778.1,300.2 778.1,301.8 778.2,303.4 778.3,304.9 778.3,306.4 778.4,308.1 778.5,309.3 778.5,311.0 778.6,312.5 778.7,314.1 778.7,315.6 778.8,317.1 778.8,318.8 778.8,320.2 778.9,321.8 778.9,323.3 779.0,324.9 779.0,326.5 779.0,328.1 779.1,329.6 779.1,331.1 779.1,332.7 779.2,334.4 779.2,335.9 779.2,337.4 779.3,339.0 779.3,340.6 779.4,342.1 779.4,343.7 779.4,345.3 779.5,346.9 779.5,348.5 779.6,350.0 779.7,351.4 779.7,352.6 779.8,353.8 779.8,355.1 779.9,356.6 779.9,357.7 780.0,359.0 780.1,360.5 780.1,361.8 780.2,363.0 780.3,364.5 780.3,365.6 780.4,366.9 780.5,368.2 780.5,369.8 780.6,370.9 780.7,372.3 780.7,373.4 780.8,374.9 780.9,376.0 780.9,377.4 781.0,378.9 781.1,380.2 781.1,381.6 781.2,382.7 781.3,384.0 781.3,385.4 781.4,386.6 781.4,388.0 781.5,389.3 781.6,390.7 781.6,392.0 781.7,393.2 781.7,394.6 781.8,395.9 781.8,397.2 781.9,398.5 781.9,399.8 782.0,401.1 782.0,402.5 782.1,403.7 782.1,405.1 782.1,406.5 782.2,407.7 782.2,409.0 782.3,410.5 782.3,411.7 782.4,413.1 782.4,414.3 782.5,415.7 782.5,417.0 782.5,418.2 782.6,419.5 782.6,420.9 782.7,422.2 782.7,423.5 782.8,424.7 782.8,426.0 782.9,427.3 782.9,428.6 783.0,430.1 783.0,431.8 783.1,433.4 783.1,434.9 783.2,436.4 783.2,437.7 783.2,438.9 783.3,440.3 783.3,441.8 783.4,443.1 783.4,444.4 783.4,445.8 783.5,447.1 783.5,448.4 783.6,450.0 783.6,451.5 783.7,453.2 783.7,454.5 783.8,455.9 783.8,457.4 783.9,458.7 783.9,460.1 784.0,461.4 784.0,462.7 784.1,464.1 784.2,465.2 784.2,466.2 784.3,467.4 784.3,468.3 784.4,468.9 784.5,468.5 784.8,468.3 784.9,466.6 785.1,465.2 785.2,464.2 785.3,462.9 785.5,461.5 785.6,460.1 785.7,458.7 785.9,457.5 786.0,455.4 786.1,453.9 786.2,452.5 786.3,451.1 786.4,449.8 786.5,448.2 786.6,446.9 786.6,445.4 786.7,444.0 786.8,442.4 786.8,440.9 786.9,439.3 786.9,437.7 786.9,436.1 787.0,434.8 787.0,433.5 787.0,432.1 787.0,430.8 787.1,429.5 787.1,428.1 787.1,426.7 787.1,425.3 787.1,423.9 787.1,422.6 787.2,421.2 787.2,419.8 787.2,418.4 787.2,417.1 787.2,415.7 787.3,414.3 787.3,413.0 787.3,411.6 787.4,410.3 787.4,409.0 787.4,407.6 787.5,406.3 787.5,405.0 787.6,403.6 787.6,402.4 787.6,400.9 787.7,399.5 787.7,398.2 787.8,396.7 787.8,395.4 787.9,394.0 787.9,392.7 788.0,391.3 788.0,389.8 788.0,388.6 788.1,387.2 788.1,385.8 788.2,384.5 788.2,383.2 788.3,381.8 788.4,380.2 788.4,378.6 788.5,377.0 788.5,375.4 788.6,374.1 788.7,372.5 788.7,371.2 788.8,369.6 788.9,368.5 788.9,367.4 789.0,366.1 789.1,365.0 789.1,364.1 789.2,362.7 789.3,361.4 789.4,359.9 789.5,358.2 789.7,356.8 789.7,355.7 789.8,354.8 789.8,353.6 789.9,352.4 789.9,351.1 790.0,350.0 790.0,348.7 790.1,347.3 790.1,345.8 790.1,344.4 790.2,342.9 790.2,341.4 790.2,339.9 790.2,338.3 790.2,337.1 790.2,335.8 790.2,334.5 790.2,333.2 790.2,332.0 790.2,330.6 790.3,329.3 790.3,328.0 790.3,326.7 790.3,325.4 790.3,324.1 790.3,322.8 790.3,321.5 790.3,320.2 790.3,318.8 790.3,317.3 790.4,315.7 790.4,314.1 790.4,312.5 790.4,310.9 790.5,309.5 790.5,307.9 790.5,306.4 790.6,304.9 790.6,303.5 790.7,302.0 790.7,300.4 790.7,298.8 790.8,297.3 790.8,295.9 790.9,294.3 790.9,292.9 791.0,291.4 791.0,289.9 791.1,288.4 791.1,286.9 791.2,285.3 791.2,283.9 791.3,282.3 791.3,280.8 791.4,279.3 791.4,277.8 791.5,276.3 791.6,274.8 791.6,273.4 791.7,271.8 791.7,270.2 791.8,268.9 791.8,267.3 791.9,265.8 791.9,264.2 792.0,262.8 792.1,261.3 792.1,259.8 792.2,258.2 792.2,256.8 792.3,255.2 792.4,253.7 792.4,252.1 792.5,250.7 792.6,249.2 792.6,247.6 792.7,246.1 792.8,244.6 792.9,243.2 792.9,241.6 793.0,239.9 793.1,238.8 793.1,237.2 793.2,235.9 793.3,234.7 793.3,233.5 793.4,232.0 793.5,230.6 793.6,229.3 793.6,228.0 793.7,226.8 793.8,225.3 793.9,223.9 793.9,222.5 794.0,221.2 794.1,219.9 794.2,218.4 794.2,217.1 794.3,215.8 794.4,214.6 794.5,213.1 794.6,211.5 794.6,210.4 794.7,209.1 794.8,207.7 794.9,206.5 795.0,205.1 795.1,203.9 795.1,202.6 795.2,201.2 795.3,199.9 795.4,198.6 795.5,197.1 795.6,195.8 795.7,194.3 795.8,193.0 795.9,191.5 795.9,190.4 796.0,188.9 796.1,187.7 796.2,186.1 796.3,184.7 796.4,183.5 796.5,182.1 796.6,180.8 796.7,179.5 796.8,178.2 796.9,177.0 797.0,175.5 797.1,174.4 797.2,172.5 797.3,171.8 797.4,170.5 797.5,169.2 797.6,168.0 797.7,166.6 797.8,165.4 798.0,163.8 798.1,162.6 798.2,161.5 798.3,160.1 798.4,158.8 798.6,157.7 798.7,156.4 798.8,155.1 798.9,153.8 799.1,152.8 799.2,151.6 799.3,150.4 799.4,149.1 799.5,147.7 799.7,146.4 799.8,145.3 799.9,144.0 800.0,142.7 800.2,141.6 800.3,140.7 800.4,138.9 800.5,137.7 800.7,136.6 800.8,135.1 800.9,133.9 801.0,132.7 801.2,131.5 801.3,130.4 801.4,129.1 801.5,127.5 801.7,126.4 801.8,125.0 802.0,124.0 802.1,122.6 802.3,121.6 802.4,120.5 802.6,118.8 802.7,117.7 802.9,116.5 803.0,114.9 803.2,113.5 803.4,112.6 803.5,111.3 803.7,109.6 803.9,108.7 804.0,107.3 804.2,106.0 804.4,104.9 804.6,103.4 804.7,102.1 804.9,101.5 805.1,100.1 805.3,98.9 805.4,97.8 805.6,96.7 805.7,95.5 805.9,94.9 806.0,93.2 806.2,92.3 806.3,90.9 806.5,90.2 806.7,89.3 806.8,87.9 807.0,86.6 807.2,85.3 807.4,85.0 807.6,83.4 807.9,82.1 808.2,80.7 808.5,78.7 808.9,77.6 809.2,76.6 809.6,74.4 810.0,73.2 810.4,71.9 810.8,69.9 811.2,68.9 811.6,68.1 812.1,67.3 812.6,64.7 813.1,63.9 813.6,63.0 814.1,61.6 814.6,60.4 815.1,59.6 815.6,58.4 816.2,57.2 816.7,56.6 817.3,55.7 817.9,53.3 818.5,54.0 819.2,52.9 819.8,52.2 820.4,49.9 821.1,52.2 821.7,50.0 822.4,47.9 823.1,49.5 823.8,48.5 824.5,46.8 825.2,47.7 825.9,46.4 826.6,44.4 827.4,44.0 828.1,44.2 828.9,44.4 829.7,41.8 830.6,42.5 831.5,40.5 832.3,38.9 833.2,39.7 834.1,37.0 834.9,36.7 835.8,34.2 836.6,34.9 837.3,35.3 838.1,32.8 839.0,31.8 839.8,33.8 840.6,32.4 841.4,30.4 842.2,30.7 843.1,33.7 844.2,29.1 845.5,32.3 846.8,32.5 848.1,33.0 849.3,33.0 850.4,34.5 851.3,31.8 852.2,32.7 853.0,33.4 853.7,31.3 854.4,30.9 855.0,30.5 855.5,28.2 855.8,26.9 856.0,26.2 856.1,24.6 856.3,23.7 856.5,22.5 856.7,23.6 856.9,25.0 857.0,25.7 857.1,26.4 857.3,27.1 857.4,27.8 857.7,28.4 858.0,29.6 858.4,29.4 858.8,31.0 859.2,28.2 859.6,27.1 860.1,27.9 860.5,25.6 861.0,24.6 861.6,23.7 861.8,22.9 862.1,22.2 862.6,20.7 863.1,18.7 863.5,18.1 863.8,19.3 864.1,20.8 864.3,22.1 864.4,23.3 864.5,23.9 864.9,25.4 865.5,23.9 866.2,26.5 867.0,24.7 867.9,26.8 868.8,25.2 869.7,26.3 870.6,26.1 871.5,25.0 872.3,25.7 873.0,28.1 873.9,29.2 874.7,28.0 875.7,27.0 877.0,30.7 878.5,27.1 879.3,28.7 880.1,25.9 880.9,29.5 881.7,28.4 882.5,27.1 883.3,25.7 884.2,23.1 885.0,27.0 886.0,28.3 886.9,27.5 887.9,25.2 888.9,28.4 889.9,28.0 890.9,25.3 891.9,25.3 893.0,26.6 894.0,29.9 895.0,27.4 896.0,31.1 897.0,30.5 898.0,26.1 898.9,28.4 899.9,34.1 900.9,29.0 901.9,30.2 902.8,29.7 903.8,28.8 904.8,28.1 905.7,29.8 906.7,30.1 907.6,30.5 908.5,30.9 909.3,28.0 910.2,28.4 911.0,31.1 911.8,30.2 912.6,27.1 913.4,28.6 915.0,33.8 916.5,30.1 918.0,30.7 918.7,31.8 919.5,32.3 920.2,30.7 920.9,31.9 921.6,34.6 922.3,32.6 923.0,34.1 923.6,35.9 924.9,35.4 926.0,36.2 926.6,35.9 927.2,36.5 927.7,38.7 928.2,38.7 928.8,38.8 929.5,38.0 930.6,41.6 931.9,41.2 933.3,38.6 934.7,36.8 936.2,36.1 937.7,41.0 938.6,41.7 939.6,36.3 940.5,37.7 941.5,33.9 942.5,36.0 943.5,40.6 944.6,38.7 945.6,38.8 946.6,36.9 947.5,35.7 948.5,36.9 949.4,39.3 950.9,38.2 952.4,38.7 953.8,38.9 955.2,36.7 956.5,38.0 957.6,36.5 958.6,35.7 959.4,35.5 959.8,33.7 960.2,34.4 960.5,33.0 960.8,31.3 961.5,30.5 962.3,29.1 962.9,31.8 963.5,31.4 964.1,31.4 964.8,33.4 965.4,32.6 966.0,32.8" fill="none" stroke="#ff0000" stroke-width="3.0" stroke-linejoin="round" stroke-linecap="round"/>
<path d="M752.0,125.2 752.5,124.5 753.0,125.5 753.4,125.4 753.9,124.1 754.4,123.9 754.8,123.1 755.3,122.8 755.8,120.7 756.2,119.6 756.6,117.7 757.1,115.9 757.5,114.3 757.9,113.2 758.3,112.4 758.6,110.5 759.1,110.2 759.6,108.4 760.2,106.1 760.8,108.2 761.5,107.3 762.3,110.6 763.0,109.3 763.8,107.8 764.5,109.4 765.3,108.5 766.2,109.1 767.0,111.2 767.8,112.6 768.6,112.8 769.3,115.0 769.8,113.9 770.3,116.2 770.7,116.9 771.2,117.0 771.6,119.0 772.0,119.7 772.4,121.5 772.8,121.3 773.2,123.4 773.5,124.1 773.9,125.9 774.2,127.3 774.5,127.1 774.7,128.2 775.0,129.2 775.2,130.1 775.4,131.4 775.6,131.9 775.7,132.9 775.9,134.1 776.1,135.1 776.3,136.5 776.4,137.1 776.6,138.2 776.8,139.9 777.0,141.3 777.3,142.6 777.5,144.3 777.6,145.2 777.7,146.6 777.9,147.4 778.0,148.6 778.1,149.7 778.2,150.7 778.4,152.0 778.5,153.3 778.6,154.3 778.7,155.8 778.9,156.6 779.0,157.4 779.1,159.0 779.3,160.2 779.4,161.7 779.6,162.8 779.7,164.2 779.8,165.2 780.0,166.7 780.1,168.1 780.3,169.4 780.4,170.8 780.5,172.4 780.7,173.3 780.8,174.7 780.9,176.5 781.0,177.7 781.2,178.9 781.3,180.5 781.4,181.9 781.5,183.2 781.6,185.0 781.8,186.3 781.9,188.1 782.0,189.2 782.1,191.2 782.2,192.6 782.3,194.3 782.4,195.6 782.5,197.3 782.6,199.0 782.7,200.5 782.8,202.0 782.9,203.6 783.0,205.2 783.1,206.9 783.2,208.3 783.3,210.1 783.4,211.2 783.4,212.4 783.5,213.6 783.6,214.9 783.6,216.0 783.7,217.4 783.8,218.6 783.8,219.9 783.9,221.0 783.9,222.2 784.0,223.5 784.1,224.7 784.1,225.9 784.2,227.1 784.2,228.4 784.3,229.7 784.4,231.1 784.4,232.3 784.5,233.5 784.5,234.9 784.6,236.0 784.7,237.4 784.7,238.7 784.8,239.9 784.9,241.5 785.0,243.1 785.0,244.3 785.1,245.9 785.2,247.3 785.3,248.9 785.3,250.3 785.4,252.0 785.5,253.4 785.6,254.9 785.7,256.6 785.7,257.9 785.8,259.5 785.9,261.1 786.0,262.6 786.1,264.1 786.1,265.7 786.2,267.3 786.3,268.7 786.4,270.2 786.5,271.7 786.5,273.0 786.6,274.8 786.7,276.3 786.8,278.0 786.9,279.2 786.9,280.8 787.0,282.4 787.1,283.9 787.2,285.2 787.3,286.6 787.4,288.4 787.5,289.9 787.5,291.4 787.6,292.8 787.7,294.3 787.8,295.9 787.9,297.3 788.0,298.8 788.0,300.4 788.1,301.9 788.2,303.3 788.3,304.8 788.3,306.4 788.4,308.0 788.5,309.4 788.5,311.0 788.6,312.5 788.7,314.1 788.7,315.6 788.8,317.2 788.8,318.7 788.9,320.2 788.9,321.8 788.9,323.4 789.0,325.0 789.0,326.4 789.0,328.1 789.1,329.6 789.1,331.2 789.1,332.7 789.2,334.3 789.2,335.8 789.2,337.4 789.3,339.0 789.3,340.6 789.4,342.0 789.4,343.7 789.5,345.3 789.5,346.9 789.6,348.5 789.6,350.0 789.7,351.3 789.7,352.5 789.8,353.9 789.8,355.2 789.9,356.5 789.9,357.9 790.0,359.1 790.0,360.5 790.1,361.7 790.1,363.1 790.2,364.4 790.3,365.6 790.3,367.1 790.4,368.3 790.4,369.7 790.5,371.1 790.6,372.3 790.6,373.6 790.7,374.8 790.8,376.3 790.8,377.7 790.9,378.9 790.9,380.3 791.0,381.7 791.1,382.9 791.1,384.1 791.2,385.5 791.3,386.8 791.3,388.0 791.4,389.4 791.5,390.9 791.5,392.3 791.6,393.9 791.7,395.5 791.8,396.9 791.8,398.5 791.9,400.1 792.0,401.7 792.1,403.2 792.1,404.8 792.2,406.3 792.3,407.8 792.3,409.4 792.4,410.9 792.5,412.2 792.6,413.7 792.7,415.3 792.7,416.6 792.8,418.0 792.9,419.4 793.0,420.8 793.1,422.4 793.2,423.2 793.3,424.9 793.4,425.8 793.5,427.0 793.6,428.5 793.7,429.7 793.8,431.0 793.9,432.5 794.0,433.9 794.2,434.9 794.3,436.0 794.4,437.0 794.5,438.3 794.6,439.5 794.8,440.5 795.0,441.6 795.3,444.2 795.6,440.8 795.8,440.6 796.0,439.4 796.1,438.3 796.2,437.3 796.3,436.1 796.4,434.7 796.6,433.3 796.7,432.4 796.8,430.9 796.9,429.7 797.0,428.2 797.1,427.2 797.2,426.0 797.3,424.6 797.4,423.4 797.5,422.0 797.6,420.8 797.7,419.5 797.8,418.1 797.8,416.7 797.9,415.3 798.0,414.0 798.1,412.5 798.2,410.9 798.2,409.5 798.3,407.9 798.4,406.3 798.5,404.8 798.5,403.3 798.6,401.6 798.7,400.1 798.8,398.5 798.8,397.0 798.9,395.6 799.0,393.9 799.0,392.3 799.1,390.9 799.2,389.3 799.3,388.0 799.3,386.8 799.4,385.4 799.5,384.2 799.5,382.7 799.6,381.6 799.7,380.2 799.7,379.0 799.8,377.6 799.9,376.2 800.0,375.0 800.0,373.6 800.1,372.2 800.2,371.0 800.2,369.8 800.3,368.5 800.4,367.2 800.4,365.6 800.5,364.4 800.6,363.0 800.6,361.8 800.7,360.3 800.8,359.2 800.8,357.9 800.9,356.6 801.0,355.3 801.0,353.9 801.1,352.5 801.1,351.3 801.2,350.0 801.3,348.4 801.3,346.9 801.4,345.1 801.5,343.7 801.5,342.1 801.6,340.6 801.6,339.0 801.7,337.4 801.7,335.9 801.8,334.2 801.8,332.7 801.9,331.1 801.9,329.6 802.0,328.0 802.1,326.4 802.1,324.9 802.2,323.4 802.2,321.7 802.3,320.2 802.3,318.7 802.4,317.3 802.5,315.6 802.5,314.0 802.6,312.6 802.7,311.0 802.7,309.4 802.8,308.0 802.9,306.5 803.0,305.0 803.1,303.3 803.1,302.0 803.2,300.3 803.3,298.9 803.4,297.3 803.5,296.0 803.6,294.4 803.7,292.8 803.7,291.4 803.8,289.9 803.9,288.4 804.0,286.9 804.1,285.2 804.2,283.7 804.3,282.3 804.3,280.8 804.4,279.2 804.5,277.9 804.6,276.3 804.7,274.6 804.8,273.2 804.8,271.9 804.9,270.1 805.0,268.9 805.1,267.4 805.2,265.7 805.2,264.3 805.3,262.9 805.4,261.1 805.5,259.6 805.6,258.4 805.6,256.7 805.7,255.1 805.8,253.8 805.9,252.3 806.0,250.7 806.0,249.2 806.1,247.6 806.2,246.0 806.3,244.7 806.3,243.1 806.4,241.4 806.5,239.9 806.6,238.6 806.6,237.2 806.7,235.9 806.8,234.7 806.8,233.2 806.9,231.9 806.9,230.4 807.0,229.0 807.1,227.5 807.1,226.2 807.2,224.6 807.3,223.1 807.3,221.9 807.4,220.3 807.5,218.9 807.5,217.7 807.6,216.1 807.6,214.8 807.7,213.4 807.8,212.0 807.8,210.8 807.9,209.4 808.0,208.1 808.0,207.0 808.1,205.6 808.2,204.1 808.2,202.8 808.3,201.5 808.4,200.0 808.5,198.3 808.6,197.2 808.7,195.7 808.8,194.2 808.9,193.2 809.0,192.0 809.1,190.8 809.2,189.5 809.3,188.4 809.4,186.9 809.5,185.5 809.6,184.8 809.7,183.2 809.8,181.9 810.0,180.2 810.1,179.3 810.2,177.6 810.3,176.4 810.4,174.7 810.6,173.2 810.7,172.1 810.8,170.8 811.0,169.2 811.1,168.4 811.2,166.6 811.4,165.6 811.5,164.3 811.6,162.7 811.8,161.7 811.9,160.2 812.0,159.2 812.2,157.9 812.3,156.8 812.4,155.3 812.6,154.2 812.7,153.0 812.8,151.8 812.9,150.3 813.1,149.2 813.2,148.0 813.3,146.8 813.4,145.0 813.5,143.8 813.7,142.5 813.8,141.5 813.9,140.1 814.1,139.0 814.2,137.7 814.4,136.7 814.5,135.5 814.7,134.0 814.9,132.8 815.1,131.2 815.2,130.3 815.4,129.1 815.6,127.8 815.8,127.1 816.0,124.8 816.2,123.9 816.4,122.7 816.6,121.7 816.7,120.4 816.9,118.8 817.0,117.7 817.2,116.7 817.3,115.4 817.5,114.3 817.6,112.9 817.8,111.5 817.9,110.1 818.1,109.0 818.3,107.4 818.4,106.2 818.6,105.2 818.8,103.6 819.1,102.6 819.3,100.5 819.5,99.7 819.7,98.8 820.0,97.9 820.2,96.5 820.5,95.5 820.8,94.1 821.1,93.2 821.4,92.4 821.7,90.7 822.0,89.5 822.3,89.3 822.6,88.5 822.9,87.3 823.2,85.4 823.5,84.5 823.9,83.4 824.2,82.8 824.5,81.8 824.8,80.2 825.2,79.3 825.7,77.8 826.1,76.8 826.5,74.7 826.9,73.5 827.4,71.2 827.8,70.4 828.3,69.5 828.7,67.4 829.2,66.3 829.7,65.5 830.2,64.2 830.6,63.0 831.0,62.4 831.4,62.4 831.8,62.2 832.2,61.2 832.6,60.1 833.5,59.6 834.4,56.3 835.3,57.1 836.1,55.4 836.9,54.3 837.7,53.0 838.6,52.7 839.4,52.4 840.3,50.6 841.1,49.7 842.0,50.6 842.8,51.3 843.7,50.5 844.5,49.9 845.4,47.5 846.2,47.2 847.1,46.8 847.9,48.8 848.7,45.8 849.6,47.0 850.4,46.1 851.2,43.8 852.1,44.7 852.9,45.1 853.7,43.9 854.6,42.9 855.4,43.3 856.2,40.2 857.1,40.5 857.9,40.5 858.8,40.7 859.6,41.0 860.5,38.3 861.4,39.2 862.3,41.0 863.2,41.0 864.1,39.0 865.1,38.7 866.0,39.6 867.0,40.8 867.9,36.2 868.9,42.5 869.9,39.8 870.9,41.7 872.0,42.3 873.4,39.2 874.8,37.4 876.3,37.0 877.7,42.1 879.2,38.4 880.6,39.1 881.8,37.0 883.0,37.9 884.2,38.6 885.3,38.6 886.5,37.5 887.7,35.8 889.1,36.4 890.6,35.7 891.4,37.3 892.1,34.8 892.9,33.7 893.6,35.4 894.4,33.5 895.2,36.0 896.0,35.8 896.8,33.3 897.7,33.1 898.7,34.3 899.6,30.9 900.6,34.4 901.6,34.6 902.6,32.9 903.6,32.5 904.6,31.2 905.6,30.7 906.6,32.4 907.5,32.1 908.5,30.6 909.3,32.8 910.1,30.6 911.0,32.5 911.8,29.5 912.6,31.3 913.4,31.6 914.9,31.9 916.5,29.7 918.0,30.0 919.4,29.9 920.8,31.1 922.1,27.9 923.5,28.7 924.8,26.1 926.0,31.5 927.0,29.8 928.0,29.8 928.9,30.7 929.8,32.3 930.8,31.8 931.9,33.0 932.8,30.9 933.6,31.3 934.6,35.0 935.5,33.4 936.5,30.9 937.6,33.7 938.6,34.8 939.6,36.1 940.6,32.4 941.6,34.0 942.6,32.5 943.5,31.3 945.0,32.7 946.4,34.4 947.8,34.0 949.1,34.6 950.4,34.2 951.7,35.2 953.0,37.1 954.2,34.3 955.4,33.8 956.6,33.7 957.7,29.6 958.7,29.0 959.4,29.1 960.0,28.2 960.6,30.8 961.1,27.7 961.7,28.1 962.3,30.6 962.9,28.3 963.5,29.9 964.2,30.9 964.8,29.9 965.4,32.2 966.0,32.1" fill="none" stroke="#0000ff" stroke-width="3.0" stroke-linejoin="round" stroke-linecap="round"/>
<path d="M752.0,90.2 752.2,89.3 752.4,88.4 752.7,89.1 752.9,87.3 753.1,86.9 753.4,86.2 753.8,85.2 754.3,84.5 754.8,82.6 755.3,81.8 755.8,81.1 756.2,79.1 756.5,78.4 756.7,76.9 756.9,76.0 757.0,75.0 757.2,73.5 757.5,73.3 757.8,71.2 758.0,70.9 758.3,69.4 758.6,68.6 759.1,66.9 759.6,67.9 760.2,67.8 761.0,64.9 761.8,67.2 762.7,67.5 763.5,69.2 764.3,67.2 765.0,69.8 765.7,69.7 766.4,71.4 767.1,69.0 767.7,71.8 768.4,68.5 769.1,70.3 769.8,71.7 770.5,71.1 771.2,73.6 771.9,72.9 772.5,74.1 773.0,74.7 773.5,75.9 774.0,76.0 774.5,77.9 775.0,78.3 775.4,79.7 775.9,80.9 776.3,82.0 776.8,82.6 777.2,83.8 777.6,84.9 778.0,86.4 778.4,87.5 778.8,87.6 779.1,88.7 779.5,91.0 779.8,91.4 780.2,93.1 780.5,93.8 780.8,95.4 781.1,96.5 781.4,97.2 781.7,99.1 782.0,100.3 782.3,101.4 782.6,101.9 782.9,103.6 783.3,105.4 783.6,106.9 783.9,107.7 784.1,108.6 784.4,110.5 784.7,112.3 784.9,113.3 785.2,115.2 785.4,116.1 785.6,117.8 785.8,118.4 786.0,119.9 786.2,121.3 786.3,122.1 786.5,124.2 786.6,124.9 786.8,125.9 786.9,127.3 787.0,128.4 787.2,129.7 787.3,131.2 787.4,132.5 787.6,134.2 787.7,135.5 787.8,137.1 787.9,138.7 788.0,140.3 788.0,141.2 788.1,142.3 788.1,143.4 788.2,144.4 788.3,145.7 788.3,146.8 788.4,147.9 788.4,149.3 788.5,150.5 788.6,151.7 788.6,153.1 788.7,154.6 788.7,155.8 788.8,157.3 788.8,158.8 788.9,160.2 788.9,161.8 789.0,163.3 789.0,164.8 789.1,166.3 789.1,168.0 789.2,169.6 789.2,171.2 789.3,172.8 789.4,174.4 789.4,176.0 789.5,177.6 789.5,179.1 789.6,180.7 789.7,182.1 789.7,183.7 789.8,185.2 789.9,186.7 790.0,188.1 790.1,189.4 790.2,190.7 790.3,192.1 790.4,193.5 790.5,194.7 790.6,195.9 790.7,197.5 790.8,198.6 790.9,199.8 791.0,201.1 791.1,202.5 791.2,204.0 791.3,205.3 791.4,206.5 791.6,207.5 791.7,208.9 791.8,210.4 791.9,211.7 792.0,212.9 792.0,214.3 792.1,215.5 792.2,216.8 792.3,218.1 792.4,219.4 792.4,220.8 792.5,222.1 792.6,223.5 792.6,224.7 792.7,226.2 792.7,227.6 792.8,228.8 792.8,230.2 792.9,231.5 792.9,233.0 793.0,234.2 793.0,235.5 793.0,236.9 793.1,238.3 793.1,239.5 793.2,240.9 793.2,242.3 793.2,243.6 793.3,244.8 793.3,246.2 793.4,247.4 793.4,248.8 793.5,250.0 793.6,251.5 793.6,253.1 793.7,254.5 793.8,255.9 793.8,257.4 793.9,258.8 794.0,260.2 794.1,261.7 794.1,263.1 794.2,264.5 794.3,265.9 794.4,267.3 794.4,268.9 794.5,270.2 794.6,271.9 794.7,273.2 794.8,274.6 794.9,276.4 795.0,277.7 795.1,279.1 795.2,280.6 795.3,282.0 795.4,283.6 795.5,284.8 795.7,286.3 795.8,288.1 795.9,289.5 796.0,290.9 796.1,292.7 796.3,293.9 796.4,295.8 796.5,297.0 796.6,298.7 796.8,300.2 796.9,301.9 797.0,303.3 797.1,304.9 797.2,306.4 797.3,308.0 797.4,309.5 797.5,310.9 797.6,312.5 797.7,314.1 797.7,315.5 797.8,317.0 797.9,318.7 797.9,320.3 798.0,321.8 798.1,323.3 798.1,324.9 798.2,326.5 798.2,328.1 798.2,329.6 798.3,331.2 798.3,332.7 798.4,334.3 798.4,335.9 798.4,337.3 798.5,339.0 798.5,340.6 798.6,342.1 798.6,343.6 798.7,345.4 798.7,347.0 798.8,348.4 798.8,350.0 798.8,351.3 798.9,352.6 798.9,353.9 799.0,355.3 799.0,356.6 799.0,357.9 799.1,359.3 799.1,360.6 799.1,362.0 799.2,363.3 799.2,364.7 799.2,366.1 799.3,367.4 799.3,368.8 799.3,370.0 799.4,371.4 799.4,372.8 799.5,374.0 799.5,375.4 799.5,376.8 799.6,378.0 799.7,379.2 799.7,380.7 799.8,381.9 799.8,383.4 799.9,384.7 800.0,386.2 800.1,387.7 800.2,389.4 800.3,390.6 800.4,392.0 800.5,393.4 800.6,394.8 800.7,396.1 800.8,397.6 800.9,399.0 801.0,400.4 801.2,402.1 801.3,403.5 801.4,404.6 801.6,406.1 801.7,407.4 801.8,409.0 802.0,409.7 802.1,411.1 802.3,412.3 802.5,413.2 802.6,414.5 803.2,417.6 803.7,415.7 803.9,413.6 804.2,413.1 804.4,411.5 804.7,410.2 804.9,408.5 805.1,407.6 805.2,406.5 805.4,404.9 805.5,403.9 805.7,402.6 805.8,401.6 806.0,400.2 806.1,399.6 806.2,397.8 806.4,396.1 806.5,394.6 806.6,393.4 806.7,392.2 806.7,391.0 806.8,389.8 806.9,388.5 806.9,387.1 807.0,385.9 807.1,384.6 807.1,383.4 807.2,381.9 807.2,380.7 807.3,379.5 807.3,378.1 807.4,376.9 807.4,375.6 807.5,374.5 807.5,372.8 807.6,371.2 807.7,369.7 807.8,368.5 807.9,367.4 807.9,366.4 808.1,364.7 808.2,363.1 808.3,361.7 808.4,360.0 808.5,358.4 808.7,357.0 808.7,355.7 808.8,354.8 808.9,353.6 809.0,352.3 809.0,351.2 809.1,349.9 809.2,348.7 809.2,347.2 809.3,345.7 809.3,344.4 809.4,343.0 809.5,341.4 809.5,339.8 809.6,338.3 809.6,337.1 809.6,335.8 809.7,334.5 809.7,333.1 809.7,331.9 809.8,330.6 809.8,329.3 809.8,328.0 809.9,326.7 809.9,325.4 810.0,324.1 810.0,322.8 810.0,321.4 810.1,320.2 810.1,318.8 810.1,317.3 810.2,315.7 810.2,314.1 810.3,312.5 810.4,311.0 810.4,309.4 810.5,307.9 810.5,306.4 810.6,304.9 810.6,303.4 810.7,301.9 810.7,300.4 810.8,298.9 810.8,297.4 810.9,295.9 811.0,294.4 811.0,292.9 811.1,291.4 811.1,289.9 811.2,288.3 811.3,286.9 811.3,285.2 811.4,283.8 811.4,282.3 811.5,280.8 811.6,279.3 811.6,277.8 811.7,276.3 811.8,274.8 811.8,273.2 811.9,271.8 812.0,270.2 812.0,268.8 812.1,267.4 812.2,265.8 812.3,264.2 812.3,262.7 812.4,261.3 812.5,259.8 812.6,258.2 812.6,256.7 812.7,255.4 812.8,253.7 812.9,252.4 812.9,250.7 813.0,249.1 813.1,247.7 813.2,246.1 813.3,244.6 813.3,243.1 813.4,241.4 813.5,240.1 813.6,238.7 813.6,237.3 813.7,235.9 813.8,234.9 813.8,233.3 813.9,232.1 814.0,230.7 814.1,229.2 814.1,228.1 814.2,226.5 814.3,225.1 814.3,223.8 814.4,222.5 814.5,221.3 814.6,219.7 814.6,218.7 814.7,217.1 814.8,215.9 814.9,214.5 814.9,213.0 815.0,211.7 815.1,210.5 815.2,209.1 815.2,207.9 815.3,206.3 815.4,205.0 815.5,203.7 815.5,202.4 815.6,201.3 815.7,200.0 815.8,198.8 815.9,197.2 816.0,195.7 816.1,194.4 816.2,193.2 816.2,191.6 816.3,190.2 816.4,188.9 816.5,187.6 816.6,186.2 816.7,184.9 816.8,183.5 816.9,182.3 817.0,181.0 817.1,179.6 817.2,178.2 817.3,176.7 817.4,175.5 817.5,174.1 817.5,172.9 817.6,171.7 817.7,170.6 817.8,169.1 817.9,168.1 818.0,166.6 818.1,165.1 818.2,164.0 818.3,162.6 818.3,161.3 818.4,160.1 818.5,158.8 818.6,157.7 818.7,156.4 818.8,155.3 818.8,153.8 818.9,152.6 819.0,151.8 819.1,150.2 819.2,149.2 819.3,147.8 819.4,146.5 819.5,145.6 819.6,144.2 819.7,142.7 819.8,141.5 819.9,140.4 820.0,139.0 820.2,137.8 820.3,136.5 820.4,135.2 820.5,134.0 820.6,132.7 820.8,131.3 820.9,130.2 821.0,128.8 821.1,127.7 821.3,126.4 821.4,125.0 821.6,124.3 821.7,122.4 821.8,121.6 822.0,120.0 822.1,118.8 822.3,117.8 822.4,116.4 822.6,115.2 822.7,114.2 822.9,112.7 823.0,111.6 823.2,110.1 823.4,108.8 823.5,107.6 823.7,106.7 823.9,104.4 824.1,103.9 824.3,102.6 824.5,100.9 824.7,100.1 824.9,98.7 825.2,97.2 825.4,96.2 825.7,94.6 826.0,94.1 826.2,92.0 826.5,90.7 826.8,89.7 827.1,88.5 827.4,87.5 827.7,86.1 828.0,84.8 828.3,82.6 828.6,82.0 828.9,80.9 829.2,79.9 829.5,78.0 829.8,77.2 830.1,75.6 830.4,74.2 830.6,73.0 830.9,71.6 831.2,70.2 831.4,68.8 831.7,67.6 832.0,66.1 832.3,64.2 832.5,63.6 832.8,62.2 833.1,60.7 833.5,59.3 833.8,58.8 834.1,56.7 834.7,55.6 835.3,53.5 836.0,52.9 836.8,52.6 837.7,50.5 838.5,50.7 839.4,48.4 840.3,49.0 841.1,49.4 842.0,47.0 842.8,46.6 843.7,47.3 844.5,46.6 845.4,45.0 846.2,44.7 847.0,44.0 847.9,44.5 848.7,43.7 849.5,42.8 850.4,41.2 851.3,39.9 852.3,38.9 853.2,41.1 854.2,43.5 855.1,40.2 856.0,40.0 856.9,38.4 857.7,38.1 858.5,36.1 859.3,36.5 860.2,34.6 861.0,35.6 861.9,33.2 862.7,34.6 863.6,33.0 864.5,33.0 865.5,32.1 866.5,29.5 867.9,28.9 868.6,31.1 869.3,30.0 870.1,30.1 870.9,31.2 871.7,29.2 872.5,30.0 873.3,27.6 874.1,26.6 874.9,27.5 875.7,27.2 877.2,27.2 878.8,27.7 880.3,27.8 881.9,28.6 883.5,25.7 884.3,25.3 885.1,27.2 886.0,27.8 887.0,27.0 887.9,27.0 888.9,29.6 889.9,27.5 890.9,25.3 891.9,26.2 892.9,29.6 893.8,28.5 894.8,25.2 895.8,26.0 896.8,28.1 897.8,27.0 898.8,28.4 899.8,25.9 900.7,27.6 901.7,28.2 902.7,28.7 903.7,27.9 904.7,27.7 905.7,27.7 906.6,28.7 907.6,29.0 908.5,27.0 909.3,27.0 910.2,28.5 911.0,26.8 911.8,28.1 912.6,32.1 913.4,29.5 914.2,28.3 915.0,28.4 916.5,28.6 918.0,28.8 919.4,30.4 920.1,31.9 920.8,32.5 921.5,32.8 922.1,30.5 922.8,33.2 923.5,32.6 924.7,34.4 926.0,34.9 927.0,35.1 927.9,34.4 928.9,36.2 929.8,36.6 930.8,37.6 931.9,37.5 932.7,36.6 933.5,39.8 934.4,40.3 935.2,38.4 936.2,37.5 937.1,42.3 938.0,41.9 938.9,41.1 939.8,38.3 940.7,43.0 941.6,42.4 942.4,39.9 943.6,37.0 944.9,43.0 946.0,39.8 947.2,40.5 948.3,40.9 949.4,41.2 950.4,39.2 951.4,40.1 952.4,39.3 953.4,38.3 954.3,38.6 955.2,37.2 956.3,36.1 956.8,35.4 957.2,33.7 957.7,33.4 958.2,32.3 958.6,32.6 959.1,30.3 959.6,32.0 960.1,30.1 961.1,29.2 961.9,26.9 962.7,28.5 963.5,31.5 964.3,29.9 965.2,28.1 966.0,31.5" fill="none" stroke="#ff00ff" stroke-width="3.0" stroke-linejoin="round" stroke-linecap="round"/>
<path d="M752.0,128.2 752.1,128.8 752.1,129.7 752.2,130.7 752.2,131.1 752.3,132.6 752.4,133.4 752.5,134.8 752.7,136.3 752.9,137.7 753.0,139.2 753.2,140.5 753.3,141.2 753.4,142.5 753.6,143.5 753.7,144.9 753.9,145.9 754.1,147.0 754.2,148.2 754.4,149.7 754.5,150.3 754.7,151.4 754.8,152.4 755.0,154.0 755.2,155.3 755.4,156.8 755.6,158.2 755.8,160.2 756.1,161.2 756.3,162.4 756.5,163.6 756.7,165.3 756.9,167.1 757.1,168.2 757.3,169.9 757.4,171.0 757.6,172.1 757.7,173.2 757.9,174.4 758.0,175.5 758.1,176.6 758.3,177.9 758.4,179.3 758.5,180.4 758.7,181.3 758.8,182.9 758.9,184.0 759.1,185.1 759.2,186.6 759.3,187.8 759.4,189.3 759.6,189.9 759.7,191.6 759.8,192.7 760.0,194.4 760.1,195.8 760.3,197.5 760.4,198.7 760.6,200.0 760.7,201.8 760.8,203.2 761.0,204.8 761.1,205.7 761.3,207.6 761.4,208.7 761.5,210.7 761.6,212.1 761.8,213.5 761.9,215.2 762.0,216.6 762.1,218.2 762.2,219.7 762.3,221.0 762.4,222.5 762.5,223.9 762.5,225.5 762.6,226.9 762.7,228.3 762.7,229.8 762.8,231.2 762.9,232.7 762.9,234.2 763.0,235.7 763.0,237.1 763.1,238.6 763.1,240.1 763.2,241.6 763.2,243.1 763.3,244.7 763.3,245.9 763.4,247.3 763.4,248.6 763.5,249.8 763.5,251.1 763.5,252.4 763.5,253.8 763.6,255.0 763.6,256.2 763.6,257.6 763.7,259.0 763.7,260.2 763.7,261.5 763.7,262.9 763.8,264.2 763.8,265.6 763.8,266.8 763.9,268.2 763.9,269.6 763.9,270.9 764.0,272.2 764.0,273.6 764.1,274.9 764.1,276.1 764.2,277.8 764.2,279.3 764.3,280.7 764.3,282.3 764.4,283.5 764.5,285.3 764.6,286.6 764.6,288.1 764.7,289.6 764.8,291.2 764.9,292.6 765.0,294.3 765.1,295.6 765.1,297.4 765.2,298.8 765.3,300.4 765.4,301.9 765.5,303.3 765.5,304.9 765.6,306.2 765.7,307.9 765.8,309.4 765.8,310.9 765.9,312.6 766.0,314.0 766.0,315.6 766.1,317.2 766.1,318.7 766.2,320.2 766.3,321.8 766.3,323.5 766.4,324.9 766.4,326.5 766.5,327.9 766.5,329.6 766.6,331.1 766.6,332.8 766.7,334.3 766.7,335.8 766.8,337.4 766.8,339.0 766.9,340.5 766.9,342.2 767.0,343.7 767.0,345.3 767.1,346.9 767.1,348.4 767.2,349.9 767.2,351.3 767.3,352.4 767.3,354.0 767.4,355.2 767.4,356.4 767.5,357.8 767.5,359.3 767.6,360.4 767.7,361.7 767.7,363.1 767.8,364.3 767.8,365.8 767.9,366.9 767.9,368.3 768.0,369.6 768.0,370.9 768.1,372.3 768.1,373.4 768.2,374.8 768.2,376.2 768.3,377.4 768.3,378.8 768.4,380.1 768.5,381.5 768.5,382.8 768.6,384.2 768.6,385.5 768.7,386.7 768.7,387.9 768.8,389.2 768.9,390.5 768.9,391.9 769.0,393.3 769.0,394.8 769.1,395.9 769.2,397.3 769.2,398.6 769.3,400.0 769.4,401.2 769.4,402.9 769.5,404.0 769.6,405.4 769.6,406.7 769.7,407.9 769.8,409.5 769.8,410.7 769.9,412.1 770.0,413.5 770.0,414.8 770.1,416.0 770.2,417.3 770.2,418.5 770.3,420.1 770.4,421.1 770.4,422.6 770.5,423.9 770.6,425.6 770.6,427.1 770.7,428.5 770.7,429.9 770.8,431.2 770.8,432.4 770.9,433.7 770.9,435.0 771.0,436.1 771.0,437.4 771.0,438.7 771.1,439.9 771.1,441.2 771.1,442.4 771.2,443.7 771.2,445.3 771.3,446.8 771.3,448.3 771.4,449.8 771.4,451.1 771.5,452.6 771.6,453.7 771.6,455.0 771.7,456.1 771.8,457.1 771.8,458.4 771.9,458.9 772.0,460.1 772.0,461.0 772.1,461.9 772.3,463.8 772.5,464.3 772.7,462.5 773.0,464.5 773.3,463.5 773.7,462.2 773.9,461.5 774.1,460.4 774.2,459.4 774.4,458.0 774.6,457.0 774.7,456.2 774.8,455.1 774.9,453.9 775.0,452.6 775.1,451.1 775.2,449.7 775.2,448.4 775.3,446.8 775.3,445.2 775.4,443.7 775.4,442.4 775.4,441.2 775.4,439.9 775.4,438.8 775.4,437.5 775.4,436.2 775.5,434.9 775.5,433.7 775.5,432.4 775.5,431.2 775.6,429.8 775.6,428.7 775.6,427.1 775.7,425.5 775.7,424.0 775.8,422.5 775.8,421.1 775.9,419.9 775.9,418.6 776.0,417.2 776.0,416.0 776.0,414.7 776.1,413.3 776.1,411.9 776.2,410.8 776.2,409.4 776.2,408.1 776.3,406.6 776.3,405.3 776.4,404.0 776.4,402.7 776.4,401.3 776.5,400.0 776.5,398.5 776.6,397.4 776.6,395.9 776.6,394.6 776.7,393.5 776.7,392.0 776.8,390.7 776.8,389.3 776.8,388.0 776.9,386.6 776.9,385.4 777.0,384.0 777.0,382.7 777.0,381.3 777.1,380.2 777.1,378.8 777.2,377.5 777.2,376.1 777.3,374.9 777.3,373.6 777.4,372.3 777.4,370.8 777.4,369.5 777.5,368.3 777.5,367.0 777.6,365.5 777.6,364.3 777.6,363.0 777.7,361.7 777.7,360.5 777.8,359.1 777.8,357.8 777.8,356.5 777.9,355.2 777.9,353.9 777.9,352.6 778.0,351.3 778.0,350.0 778.0,348.3 778.1,346.8 778.1,345.3 778.1,343.7 778.1,342.1 778.2,340.5 778.2,339.0 778.2,337.4 778.2,335.9 778.2,334.3 778.2,332.7 778.3,331.2 778.3,329.6 778.3,328.1 778.3,326.5 778.3,324.9 778.4,323.4 778.4,321.8 778.4,320.3 778.4,318.7 778.5,317.1 778.5,315.6 778.6,313.9 778.6,312.6 778.7,311.0 778.7,309.4 778.8,307.9 778.8,306.4 778.9,304.8 779.0,303.3 779.1,301.8 779.1,300.4 779.2,298.9 779.3,297.3 779.4,295.8 779.5,294.4 779.5,292.8 779.6,291.5 779.7,289.9 779.8,288.3 779.9,286.7 780.0,285.3 780.0,283.9 780.1,282.3 780.2,280.8 780.3,279.2 780.3,277.9 780.4,276.2 780.5,274.9 780.5,273.3 780.6,271.9 780.6,270.3 780.7,268.7 780.7,267.3 780.8,265.8 780.8,264.3 780.9,262.8 780.9,261.3 781.0,259.7 781.0,258.3 781.1,256.7 781.1,255.3 781.1,253.7 781.2,252.2 781.2,250.7 781.3,249.2 781.3,247.7 781.4,246.2 781.4,244.7 781.5,243.0 781.5,241.5 781.6,239.9 781.6,238.6 781.7,237.3 781.7,236.0 781.8,234.6 781.8,233.4 781.9,231.9 781.9,230.5 782.0,229.1 782.0,227.6 782.1,226.2 782.1,224.9 782.2,223.5 782.2,222.1 782.3,220.7 782.3,219.3 782.4,218.0 782.4,216.5 782.5,215.1 782.6,213.8 782.6,212.4 782.7,211.2 782.7,209.9 782.8,208.5 782.9,207.2 782.9,205.7 783.0,204.4 783.1,203.0 783.2,201.3 783.3,200.1 783.4,198.8 783.5,197.5 783.6,196.4 783.7,195.4 783.8,193.8 783.9,192.8 784.1,191.8 784.2,191.0 784.3,189.7 784.5,188.2 784.7,186.5 784.8,185.0 785.0,183.4 785.2,182.4 785.3,181.2 785.4,180.2 785.5,178.8 785.7,177.5 785.8,176.4 785.9,175.3 786.1,173.9 786.2,172.4 786.3,171.5 786.5,170.0 786.6,168.6 786.7,167.7 786.9,166.8 787.0,165.4 787.1,164.1 787.3,162.6 787.4,161.3 787.5,160.0 787.7,158.9 787.8,157.6 787.9,156.4 788.1,155.1 788.2,153.5 788.4,152.4 788.5,150.6 788.6,149.5 788.8,148.1 788.9,146.7 789.1,145.5 789.2,144.1 789.3,142.8 789.5,141.5 789.6,139.8 789.8,138.9 789.9,137.5 790.0,136.3 790.2,135.0 790.3,133.8 790.4,132.6 790.5,131.2 790.7,130.4 790.8,129.0 790.9,127.8 791.0,126.8 791.1,126.0 791.3,124.8 791.4,123.6 791.5,122.5 791.6,121.3 791.7,120.5 791.9,118.2 792.1,117.2 792.2,115.7 792.4,114.1 792.5,113.1 792.7,111.6 792.8,110.7 792.9,109.0 793.0,108.3 793.1,106.7 793.2,105.7 793.3,104.4 793.5,103.2 793.6,102.2 793.7,101.3 793.9,99.9 794.0,98.9 794.2,98.1 794.4,97.1 794.5,96.2 794.7,95.9 794.9,95.3 795.0,94.5 795.2,93.4 795.4,92.6 795.6,91.0 795.7,90.6 795.9,89.9 796.1,88.9 796.2,87.8 796.4,86.5 796.5,85.3 796.7,84.4 796.8,82.5 797.0,81.5 797.2,80.1 797.4,78.8 797.6,77.7 797.9,76.7 798.2,75.2 798.5,75.4 798.9,73.6 799.2,72.7 799.6,72.8 800.0,72.0 800.4,71.1 800.9,70.2 801.3,67.5 801.8,67.6 802.3,66.9 802.7,65.8 803.2,66.4 803.7,65.2 804.2,63.2 804.7,62.0 805.3,61.0 805.8,60.3 806.3,60.4 806.9,59.9 807.5,58.2 808.0,58.9 808.6,56.8 809.2,56.5 809.8,54.6 810.3,54.6 810.9,53.2 811.9,53.1 813.0,52.7 814.2,50.8 815.3,49.8 816.5,50.0 817.2,47.9 817.8,48.7 818.5,47.4 819.2,45.9 819.9,45.2 820.5,45.6 821.3,45.7 822.0,44.1 822.7,42.5 823.4,42.7 824.1,43.6 824.8,42.5 825.5,41.5 826.2,41.2 826.8,42.8 827.5,37.6 828.2,38.5 828.9,40.6 829.6,39.7 830.3,39.1 831.7,36.9 833.1,38.4 834.5,35.8 835.9,35.6 837.3,34.8 838.7,36.8 840.1,33.9 841.4,36.4 842.5,34.6 843.5,36.3 844.5,34.5 845.5,37.9 846.4,34.6 847.4,35.0 848.3,34.5 849.2,34.8 850.1,35.8 851.0,36.4 851.7,33.5 852.4,35.2 852.9,36.0 853.3,34.9 853.6,34.9 853.9,34.7 854.2,34.1 854.5,33.6 854.9,32.2 855.2,31.2 855.5,28.9 855.8,28.0 856.2,26.8 856.5,26.0 856.8,27.8 857.1,28.2 857.4,28.6 857.7,31.2 858.1,31.9 858.5,32.0 858.8,31.6 859.1,30.9 859.5,30.5 859.8,30.5 860.2,33.1 860.5,30.8 861.1,31.6 861.4,31.0 861.6,29.6 861.9,29.1 862.1,28.0 862.4,26.9 862.6,26.0 863.1,25.6 863.5,26.6 863.9,23.6 864.2,25.4 864.6,25.9 864.9,27.7 865.2,29.5 865.5,30.1 865.7,30.1 865.8,31.1 865.9,31.5 866.0,31.9 866.2,32.5 866.5,32.4 867.2,32.9 868.0,33.6 869.1,34.2 870.2,37.1 871.4,32.4 872.6,32.7 873.5,32.8 874.4,31.2 875.4,32.6 876.4,32.3 877.5,35.4 878.6,35.7 879.7,31.7 880.8,33.7 881.9,31.6 883.0,32.5 884.0,34.1 885.1,33.2 886.1,33.3 887.1,36.1 888.1,34.6 889.0,32.7 890.0,32.7 891.0,31.7 891.9,33.9 892.9,36.4 893.9,36.1 894.9,33.9 895.8,32.4 896.8,33.4 897.8,31.9 898.8,30.2 899.8,30.2 900.7,34.0 901.7,32.5 902.7,31.1 903.7,34.3 904.7,34.1 905.7,34.9 906.6,32.7 907.6,31.5 908.5,33.6 909.3,30.6 910.1,31.7 911.0,34.4 911.8,30.5 913.4,32.6 914.9,31.9 916.5,30.6 918.0,35.5 919.4,30.9 920.8,31.8 922.1,32.9 923.5,34.9 924.8,34.0 926.0,32.6 927.0,33.0 928.0,35.3 929.0,34.9 930.0,35.2 930.9,35.8 931.9,36.4 932.9,35.7 933.8,38.3 934.8,39.5 935.8,34.7 936.7,35.4 937.7,37.4 938.7,36.7 939.6,35.3 940.6,34.6 941.6,35.0 942.5,37.2 943.5,37.5 944.5,34.5 945.5,36.5 946.5,34.1 947.5,37.8 948.4,35.3 949.4,34.8 950.4,33.9 951.4,34.6 952.4,34.1 953.4,31.0 954.3,33.0 955.2,30.1 955.8,31.1 956.5,31.3 957.0,33.5 957.6,34.9 958.2,32.9 958.7,35.3 959.1,33.4 959.5,35.3 959.9,33.5 960.2,32.4 960.7,34.7 961.1,33.0 961.8,33.3 962.6,34.2 963.4,33.1 964.3,34.4 965.2,35.0 966.0,35.4" fill="none" stroke="#000000" stroke-width="3.0" stroke-linejoin="round" stroke-linecap="round"/>
<path d="M788.3,128.6 788.3,130.3 788.4,131.9 788.4,133.5 788.5,135.0 788.5,136.7 788.6,138.2 788.6,139.8 788.7,141.4 788.7,143.0 788.8,144.7 788.8,146.2 788.9,147.8 788.9,149.4 789.0,151.0 789.0,152.6 789.1,154.2 789.1,155.7 789.2,157.3 789.2,158.9 789.3,160.5 789.3,162.2 789.4,163.7 789.4,165.3 789.5,166.7 789.5,168.5 789.6,170.1 789.6,171.6 789.7,173.3 789.7,174.9 789.8,176.4 789.8,178.1 789.9,179.6 789.9,181.3 790.0,182.8 790.0,184.4 790.1,186.0 790.1,187.6" fill="none" stroke="#000000" stroke-width="3.0" stroke-linejoin="round" stroke-linecap="round"/>
</g><path d="M110,14.7H965.3V574H110ZM323.8,14.7V574M537.7,14.7V574M751.6,14.7V574M110,527.1h5M110,480.5h10M110,433.9h5M110,387.3h10M110,340.7h5M110,294.1h10M110,247.5h5M110,200.9h10M110,154.3h5M110,107.7h10M110,61.1h5M140.9,574v-11M171.9,574v-6M202.8,574v-11M233.8,574v-6M264.8,574v-11M295.7,574v-6M323.8,527.1h5M323.8,480.5h10M323.8,433.9h5M323.8,387.3h10M323.8,340.7h5M323.8,294.1h10M323.8,247.5h5M323.8,200.9h10M323.8,154.3h5M323.8,107.7h10M323.8,61.1h5M354.8,574v-11M385.7,574v-6M416.6,574v-11M447.6,574v-6M478.6,574v-11M509.5,574v-6M537.7,527.1h5M537.7,480.5h10M537.7,433.9h5M537.7,387.3h10M537.7,340.7h5M537.7,294.1h10M537.7,247.5h5M537.7,200.9h10M537.7,154.3h5M537.7,107.7h10M537.7,61.1h5M568.7,574v-11M599.6,574v-6M630.6,574v-11M661.5,574v-6M692.5,574v-11M723.4,574v-6M751.6,527.1h5M751.6,480.5h10M751.6,433.9h5M751.6,387.3h10M751.6,340.7h5M751.6,294.1h10M751.6,247.5h5M751.6,200.9h10M751.6,154.3h5M751.6,107.7h10M751.6,61.1h5M782.6,574v-11M813.5,574v-6M844.5,574v-11M875.4,574v-6M906.4,574v-11M937.3,574v-6" fill="none" stroke="#000" stroke-width="2"/><text x="98.5" y="582.3" font-size="32" text-anchor="end">40</text><text x="98.5" y="489.1" font-size="32" text-anchor="end">50</text><text x="98.5" y="395.9" font-size="32" text-anchor="end">60</text><text x="98.5" y="302.7" font-size="32" text-anchor="end">70</text><text x="98.5" y="209.5" font-size="32" text-anchor="end">80</text><text x="98.5" y="116.3" font-size="32" text-anchor="end">90</text><text x="98.5" y="23.1" font-size="32" text-anchor="end">100</text><text x="140.9" y="609.8" font-size="32" text-anchor="middle">4</text><text x="202.8" y="609.8" font-size="32" text-anchor="middle">6</text><text x="264.8" y="609.8" font-size="32" text-anchor="middle">8</text><text x="354.8" y="609.8" font-size="32" text-anchor="middle">4</text><text x="416.6" y="609.8" font-size="32" text-anchor="middle">6</text><text x="478.6" y="609.8" font-size="32" text-anchor="middle">8</text><text x="568.7" y="609.8" font-size="32" text-anchor="middle">4</text><text x="630.6" y="609.8" font-size="32" text-anchor="middle">6</text><text x="692.5" y="609.8" font-size="32" text-anchor="middle">8</text><text x="782.6" y="609.8" font-size="32" text-anchor="middle">4</text><text x="844.5" y="609.8" font-size="32" text-anchor="middle">6</text><text x="906.4" y="609.8" font-size="32" text-anchor="middle">8</text><text x="413" y="654.3" font-size="34.3">Wavelength (<tspan font-family="Liberation Serif" dx="1">μ</tspan><tspan dx="1">m)</tspan></text><text transform="translate(26.3,415) rotate(-90)" x="0" y="0" font-size="34.3">Reflectance (%)</text><text x="121.8" y="254.6" font-size="35">Period</text><text x="123" y="308.3" font-size="35" fill="#000">1.34</text><text x="123" y="349.5" font-size="35" fill="#ff0000">1.43</text><text x="123" y="390.7" font-size="35" fill="#0000cc">1.55</text><text x="123" y="431.9" font-size="35"><tspan fill="#ff00ff">1.65</tspan> <tspan font-family="Liberation Serif" dx="-3">μ</tspan>m</text><text x="168" y="560" font-size="31.3">SiO<tspan font-size="19" dy="7">2</tspan><tspan dy="-7">/MHA</tspan></text><text x="416.5" y="560" font-size="31.3">Si/MHA</text><text x="601" y="560" font-size="31.3">SiO<tspan font-size="19" dy="7">2</tspan><tspan dy="-7">/NDA</tspan></text><text x="850.3" y="560" font-size="31.3">Si/NDA</text><rect x="891.2" y="10.3" width="48.7" height="6.4" fill="#000"/><rect x="893.5" y="466.3" width="48.9" height="7" fill="#000"/><rect x="915" y="33" width="6.8" height="417" fill="#000"/><path d="M918.4,16.2L928.4,34.6H908.4Z" fill="#000"/><path d="M918.4,467.3L928.4,449.1H908.4Z" fill="#000"/><rect x="846" y="235" width="146" height="50" fill="#fff"/><text x="849" y="271.6" font-size="30.6">absorption</text></svg></body></html>
